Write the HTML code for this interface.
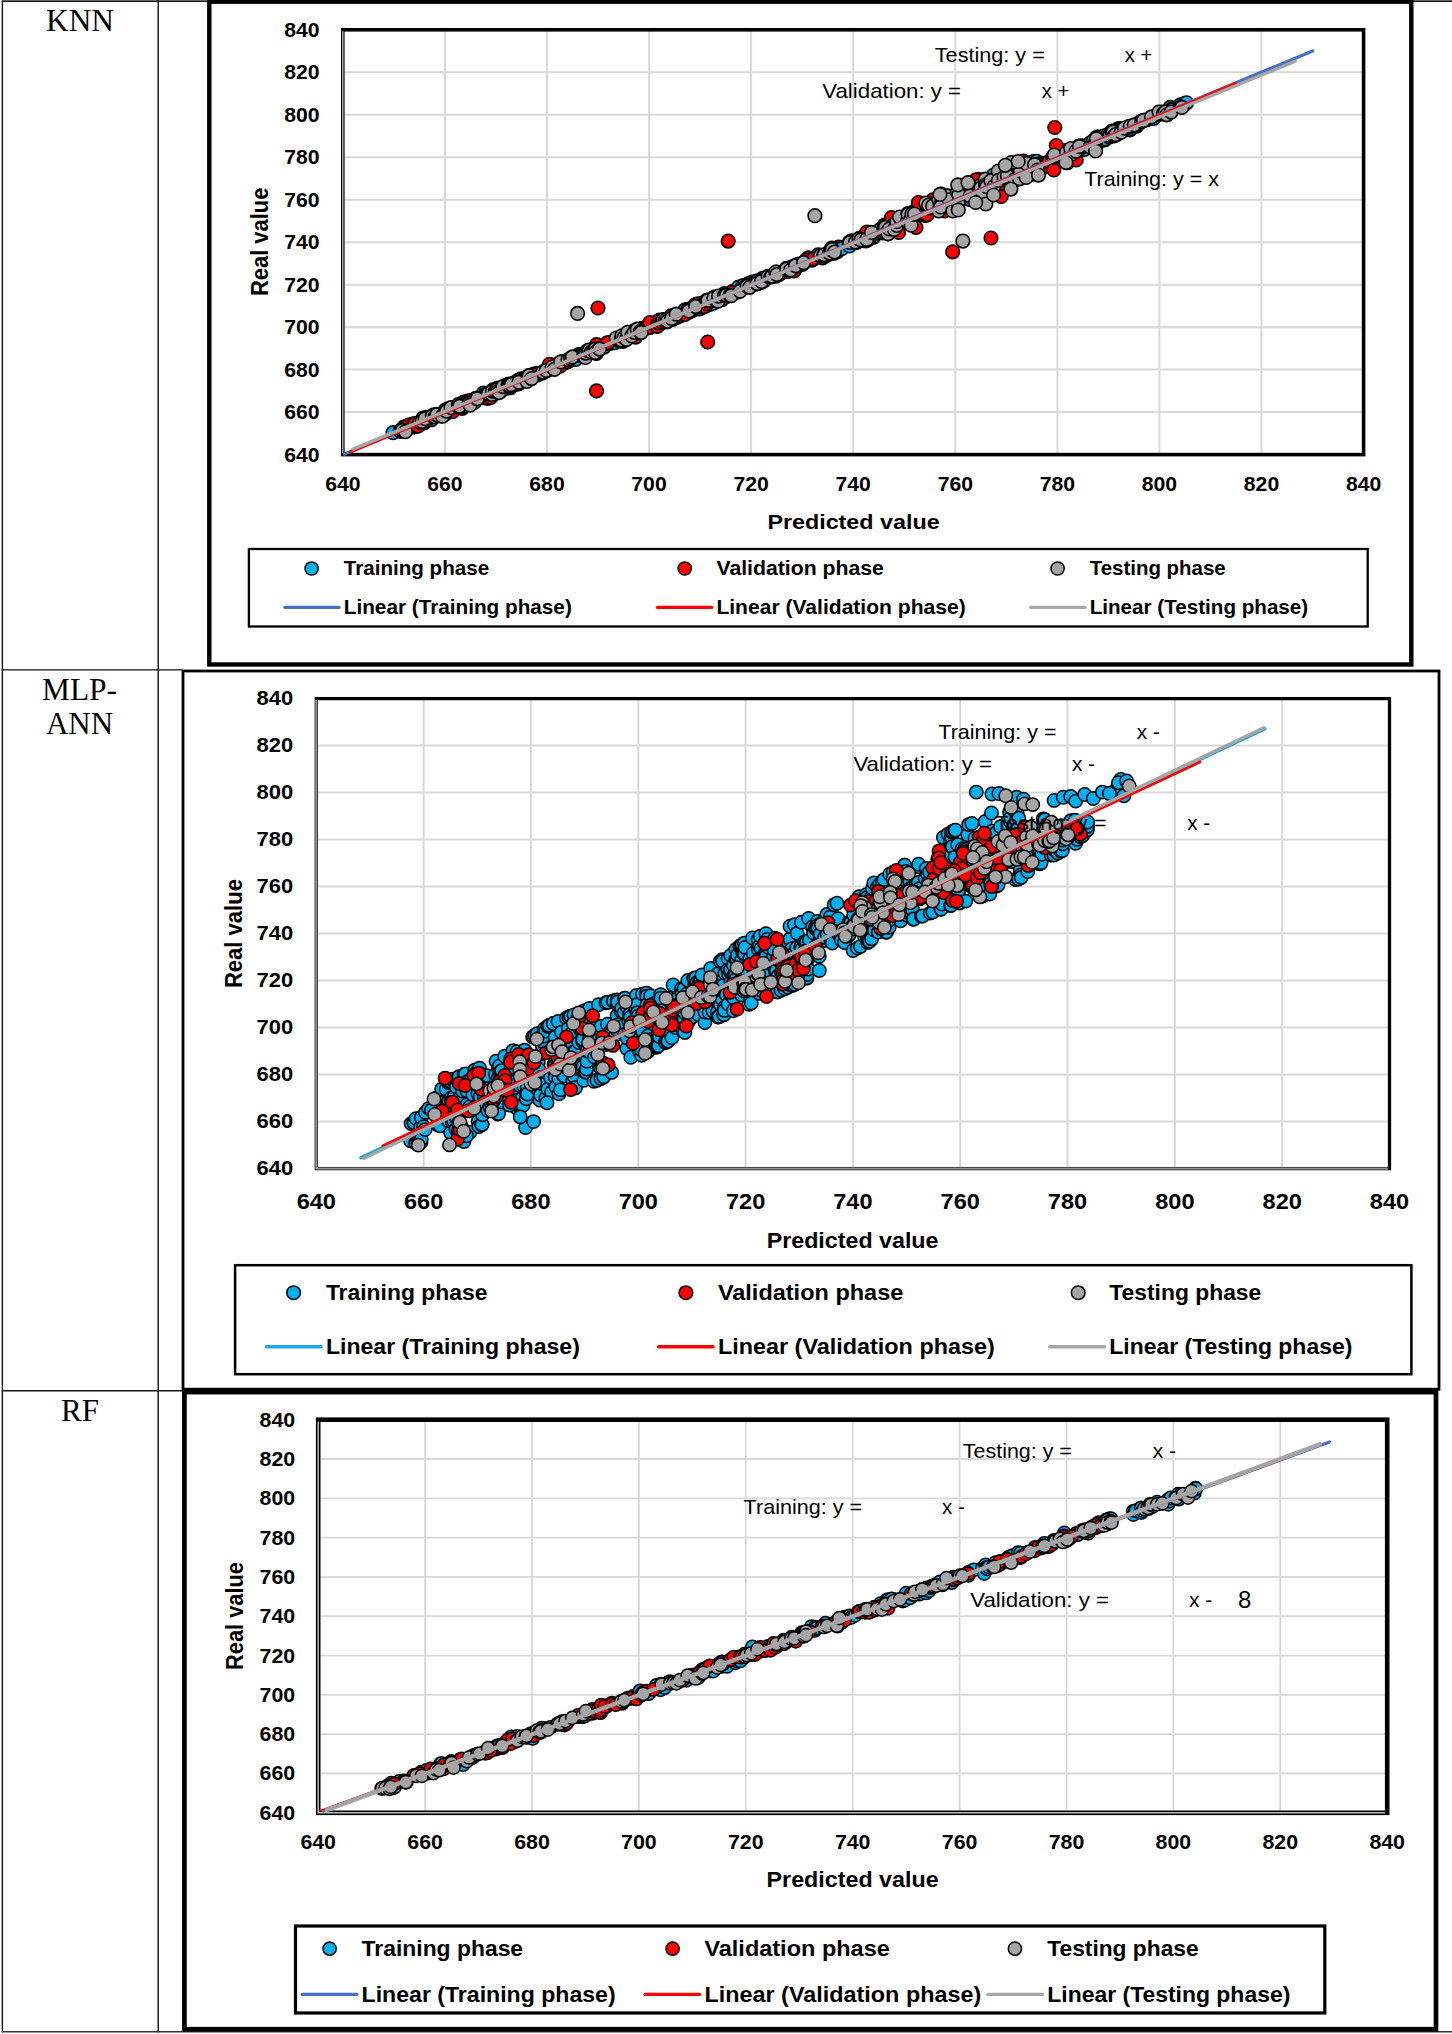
<!DOCTYPE html>
<html><head><meta charset="utf-8"><title>Scatter plots</title>
<style>html,body{margin:0;padding:0;background:#fff}svg{display:block}text{font-family:"Liberation Sans", sans-serif;fill:#000}.sf{font-family:"Liberation Serif", serif}</style></head><body>
<svg width="1452" height="2034" viewBox="0 0 1452 2034">
<rect width="1452" height="2034" fill="#fff"/>
<rect x="2" y="0" width="1452" height="0.8" fill="#b0b0b0"/>
<g stroke="#111" stroke-width="1.4">
<line x1="1.7" y1="1.3" x2="1452" y2="1.3"/>
<line x1="2.4" y1="0.7" x2="2.4" y2="2032.4"/>
<line x1="158.2" y1="0" x2="158.2" y2="2032.4"/>
<line x1="1.7" y1="669.9" x2="183" y2="669.9"/>
<line x1="1.7" y1="1390.8" x2="183" y2="1390.8"/>
</g>
<line x1="1.7" y1="2031.7" x2="1452" y2="2031.7" stroke="#333" stroke-width="1.4"/>
<text x="80" y="31" font-size="32" text-anchor="middle" textLength="68" lengthAdjust="spacingAndGlyphs" class="sf">KNN</text>
<text x="79.5" y="699.6" font-size="32" text-anchor="middle" textLength="75" lengthAdjust="spacingAndGlyphs" class="sf">MLP-</text>
<text x="79.5" y="734" font-size="32" text-anchor="middle" textLength="67.2" lengthAdjust="spacingAndGlyphs" class="sf">ANN</text>
<text x="80" y="1420.6" font-size="32" text-anchor="middle" textLength="37.8" lengthAdjust="spacingAndGlyphs" class="sf">RF</text>
<rect x="209.3" y="1.7" width="1202" height="662.8" fill="#fff" stroke="#000" stroke-width="4.4"/>
<g stroke="#D9D9D9" stroke-width="2">
<line x1="444.9" y1="29.8" x2="444.9" y2="454.6"/>
<line x1="547" y1="29.8" x2="547" y2="454.6"/>
<line x1="649" y1="29.8" x2="649" y2="454.6"/>
<line x1="751.1" y1="29.8" x2="751.1" y2="454.6"/>
<line x1="853.2" y1="29.8" x2="853.2" y2="454.6"/>
<line x1="955.3" y1="29.8" x2="955.3" y2="454.6"/>
<line x1="1057.4" y1="29.8" x2="1057.4" y2="454.6"/>
<line x1="1159.4" y1="29.8" x2="1159.4" y2="454.6"/>
<line x1="1261.5" y1="29.8" x2="1261.5" y2="454.6"/>
<line x1="342.8" y1="72.3" x2="1363.6" y2="72.3"/>
<line x1="342.8" y1="114.8" x2="1363.6" y2="114.8"/>
<line x1="342.8" y1="157.2" x2="1363.6" y2="157.2"/>
<line x1="342.8" y1="199.7" x2="1363.6" y2="199.7"/>
<line x1="342.8" y1="242.2" x2="1363.6" y2="242.2"/>
<line x1="342.8" y1="284.7" x2="1363.6" y2="284.7"/>
<line x1="342.8" y1="327.2" x2="1363.6" y2="327.2"/>
<line x1="342.8" y1="369.6" x2="1363.6" y2="369.6"/>
<line x1="342.8" y1="412.1" x2="1363.6" y2="412.1"/>
</g>
<rect x="342.8" y="29.8" width="1020.8" height="424.8" fill="none" stroke="#000" stroke-width="3.6"/>
<line x1="342.8" y1="31.3" x2="342.8" y2="453.1" stroke="#c8c8c8" stroke-width="1.3"/>
<g fill="#00B0F0" stroke="#000" stroke-width="1.6">
<circle cx="393" cy="432.7" r="6.8"/><circle cx="400.3" cy="430.7" r="6.8"/><circle cx="400.4" cy="431.3" r="6.8"/><circle cx="403.8" cy="427.2" r="6.8"/><circle cx="404.7" cy="427.5" r="6.8"/><circle cx="405.6" cy="426.8" r="6.8"/><circle cx="405.6" cy="427.6" r="6.8"/><circle cx="408.2" cy="427.5" r="6.8"/><circle cx="410.9" cy="426.8" r="6.8"/><circle cx="411.4" cy="426.4" r="6.8"/><circle cx="412.7" cy="424.2" r="6.8"/><circle cx="413" cy="425.2" r="6.8"/><circle cx="414.1" cy="426.9" r="6.8"/><circle cx="414.1" cy="425" r="6.8"/><circle cx="414.5" cy="426.7" r="6.8"/><circle cx="414.6" cy="424.5" r="6.8"/><circle cx="416.1" cy="425.7" r="6.8"/><circle cx="417.1" cy="425.4" r="6.8"/><circle cx="417.6" cy="423.3" r="6.8"/><circle cx="418.4" cy="423.2" r="6.8"/><circle cx="419.5" cy="424.9" r="6.8"/><circle cx="422.1" cy="420.6" r="6.8"/><circle cx="423.1" cy="418.2" r="6.8"/><circle cx="424.4" cy="422.7" r="6.8"/><circle cx="426.5" cy="417.3" r="6.8"/><circle cx="427.1" cy="420.4" r="6.8"/><circle cx="430.1" cy="418.9" r="6.8"/><circle cx="430.6" cy="418.3" r="6.8"/><circle cx="431.7" cy="419.6" r="6.8"/><circle cx="433.9" cy="414.9" r="6.8"/><circle cx="434.8" cy="415.6" r="6.8"/><circle cx="439.8" cy="415.3" r="6.8"/><circle cx="440.6" cy="414.3" r="6.8"/><circle cx="441.1" cy="415.8" r="6.8"/><circle cx="444.4" cy="412.8" r="6.8"/><circle cx="444.8" cy="410.9" r="6.8"/><circle cx="445" cy="414.4" r="6.8"/><circle cx="445.1" cy="412.6" r="6.8"/><circle cx="447.4" cy="410.9" r="6.8"/><circle cx="447.5" cy="409.6" r="6.8"/><circle cx="448.1" cy="408.9" r="6.8"/><circle cx="453.9" cy="409" r="6.8"/><circle cx="454.7" cy="409.1" r="6.8"/><circle cx="457.5" cy="406.3" r="6.8"/><circle cx="459.9" cy="406.4" r="6.8"/><circle cx="460.1" cy="406.2" r="6.8"/><circle cx="462.3" cy="403.4" r="6.8"/><circle cx="463.7" cy="402" r="6.8"/><circle cx="465.1" cy="403.3" r="6.8"/><circle cx="465.3" cy="403.9" r="6.8"/><circle cx="467.8" cy="401.8" r="6.8"/><circle cx="474.3" cy="402.5" r="6.8"/><circle cx="477.5" cy="398.6" r="6.8"/><circle cx="483" cy="397.7" r="6.8"/><circle cx="483.4" cy="393.1" r="6.8"/><circle cx="484.8" cy="394.5" r="6.8"/><circle cx="486.9" cy="394.4" r="6.8"/><circle cx="488.6" cy="394.2" r="6.8"/><circle cx="492.6" cy="395.3" r="6.8"/><circle cx="492.6" cy="391.3" r="6.8"/><circle cx="493" cy="389.9" r="6.8"/><circle cx="493.2" cy="393" r="6.8"/><circle cx="493.7" cy="390.9" r="6.8"/><circle cx="493.8" cy="390.8" r="6.8"/><circle cx="494.6" cy="393.5" r="6.8"/><circle cx="495.3" cy="389.9" r="6.8"/><circle cx="497.4" cy="388.4" r="6.8"/><circle cx="498.1" cy="389.7" r="6.8"/><circle cx="501" cy="388.9" r="6.8"/><circle cx="501.1" cy="387.7" r="6.8"/><circle cx="501.1" cy="390.8" r="6.8"/><circle cx="505.6" cy="386.7" r="6.8"/><circle cx="505.9" cy="385.3" r="6.8"/><circle cx="506" cy="388.4" r="6.8"/><circle cx="508.9" cy="384.1" r="6.8"/><circle cx="509.1" cy="386" r="6.8"/><circle cx="510.5" cy="387.6" r="6.8"/><circle cx="512.8" cy="384" r="6.8"/><circle cx="513.3" cy="385" r="6.8"/><circle cx="513.6" cy="383.1" r="6.8"/><circle cx="514.6" cy="384.7" r="6.8"/><circle cx="518" cy="380.3" r="6.8"/><circle cx="518.5" cy="382.5" r="6.8"/><circle cx="518.5" cy="381" r="6.8"/><circle cx="518.5" cy="382.3" r="6.8"/><circle cx="521" cy="380.9" r="6.8"/><circle cx="521.1" cy="378.8" r="6.8"/><circle cx="523.5" cy="379.1" r="6.8"/><circle cx="525.3" cy="379.2" r="6.8"/><circle cx="527.6" cy="379.4" r="6.8"/><circle cx="528.8" cy="375.6" r="6.8"/><circle cx="533.8" cy="374.1" r="6.8"/><circle cx="535.2" cy="375" r="6.8"/><circle cx="537.1" cy="373.4" r="6.8"/><circle cx="537.9" cy="374.8" r="6.8"/><circle cx="542.7" cy="372.8" r="6.8"/><circle cx="547.1" cy="370.7" r="6.8"/><circle cx="549.4" cy="368.1" r="6.8"/><circle cx="551.1" cy="367.5" r="6.8"/><circle cx="552.3" cy="368.4" r="6.8"/><circle cx="554.1" cy="365.7" r="6.8"/><circle cx="556.4" cy="364.6" r="6.8"/><circle cx="560.9" cy="363.6" r="6.8"/><circle cx="562.5" cy="361.8" r="6.8"/><circle cx="564.2" cy="362.9" r="6.8"/><circle cx="564.2" cy="362.6" r="6.8"/><circle cx="566" cy="361.1" r="6.8"/><circle cx="569.6" cy="360.3" r="6.8"/><circle cx="571.4" cy="358.4" r="6.8"/><circle cx="575.7" cy="359.4" r="6.8"/><circle cx="578.6" cy="354.5" r="6.8"/><circle cx="582.2" cy="356" r="6.8"/><circle cx="585.8" cy="353.7" r="6.8"/><circle cx="586.4" cy="355.1" r="6.8"/><circle cx="587.2" cy="352.1" r="6.8"/><circle cx="588.2" cy="350.8" r="6.8"/><circle cx="589.3" cy="350.6" r="6.8"/><circle cx="589.7" cy="350.7" r="6.8"/><circle cx="594.7" cy="351.9" r="6.8"/><circle cx="596.4" cy="350.1" r="6.8"/><circle cx="596.8" cy="349.5" r="6.8"/><circle cx="604.1" cy="347.1" r="6.8"/><circle cx="607" cy="343.1" r="6.8"/><circle cx="610.1" cy="343.1" r="6.8"/><circle cx="610.5" cy="343.2" r="6.8"/><circle cx="612" cy="341.9" r="6.8"/><circle cx="614.8" cy="342.7" r="6.8"/><circle cx="618.9" cy="341" r="6.8"/><circle cx="620.6" cy="340.2" r="6.8"/><circle cx="622.5" cy="337.5" r="6.8"/><circle cx="623.6" cy="337.3" r="6.8"/><circle cx="624.6" cy="336.6" r="6.8"/><circle cx="625.8" cy="335.4" r="6.8"/><circle cx="626.8" cy="338.2" r="6.8"/><circle cx="629.2" cy="336.2" r="6.8"/><circle cx="635" cy="332.8" r="6.8"/><circle cx="636.7" cy="334.1" r="6.8"/><circle cx="637.1" cy="332.9" r="6.8"/><circle cx="641.6" cy="328.9" r="6.8"/><circle cx="642.2" cy="328.5" r="6.8"/><circle cx="642.3" cy="328.5" r="6.8"/><circle cx="643.9" cy="329.2" r="6.8"/><circle cx="644" cy="329.5" r="6.8"/><circle cx="649.9" cy="325.3" r="6.8"/><circle cx="650" cy="327.3" r="6.8"/><circle cx="650" cy="326.3" r="6.8"/><circle cx="655.6" cy="322.6" r="6.8"/><circle cx="659.7" cy="323.2" r="6.8"/><circle cx="661.5" cy="322.8" r="6.8"/><circle cx="662.1" cy="321.8" r="6.8"/><circle cx="662.6" cy="320.7" r="6.8"/><circle cx="664.6" cy="320" r="6.8"/><circle cx="666.6" cy="319.6" r="6.8"/><circle cx="671.6" cy="317" r="6.8"/><circle cx="672.6" cy="319.5" r="6.8"/><circle cx="673.7" cy="318" r="6.8"/><circle cx="675.7" cy="315.8" r="6.8"/><circle cx="675.7" cy="317.3" r="6.8"/><circle cx="677.5" cy="317.2" r="6.8"/><circle cx="679.8" cy="316" r="6.8"/><circle cx="681.2" cy="315" r="6.8"/><circle cx="682" cy="313.7" r="6.8"/><circle cx="682.2" cy="314.8" r="6.8"/><circle cx="682.4" cy="312.9" r="6.8"/><circle cx="685.1" cy="309.9" r="6.8"/><circle cx="686.9" cy="311.6" r="6.8"/><circle cx="687.9" cy="309.3" r="6.8"/><circle cx="688.5" cy="310.3" r="6.8"/><circle cx="689.7" cy="311.8" r="6.8"/><circle cx="690.9" cy="310.1" r="6.8"/><circle cx="693.3" cy="310.1" r="6.8"/><circle cx="697.7" cy="305.9" r="6.8"/><circle cx="697.7" cy="308.5" r="6.8"/><circle cx="697.9" cy="305" r="6.8"/><circle cx="698.6" cy="305.8" r="6.8"/><circle cx="699.7" cy="308.8" r="6.8"/><circle cx="699.8" cy="305" r="6.8"/><circle cx="701.1" cy="303.4" r="6.8"/><circle cx="702.1" cy="306.1" r="6.8"/><circle cx="702.9" cy="303.4" r="6.8"/><circle cx="705.5" cy="306.1" r="6.8"/><circle cx="706" cy="303.1" r="6.8"/><circle cx="707.6" cy="305" r="6.8"/><circle cx="708.9" cy="301.6" r="6.8"/><circle cx="709.4" cy="304.5" r="6.8"/><circle cx="713" cy="303.5" r="6.8"/><circle cx="714" cy="299.6" r="6.8"/><circle cx="714.2" cy="297.1" r="6.8"/><circle cx="715" cy="300.5" r="6.8"/><circle cx="719.4" cy="296.7" r="6.8"/><circle cx="720.7" cy="297.2" r="6.8"/><circle cx="721.8" cy="297.3" r="6.8"/><circle cx="722.4" cy="295.8" r="6.8"/><circle cx="724.5" cy="293.5" r="6.8"/><circle cx="726.7" cy="296.5" r="6.8"/><circle cx="732.4" cy="291.7" r="6.8"/><circle cx="733.6" cy="291.5" r="6.8"/><circle cx="738.4" cy="291.9" r="6.8"/><circle cx="738.5" cy="287.8" r="6.8"/><circle cx="738.6" cy="287.2" r="6.8"/><circle cx="740.4" cy="290.4" r="6.8"/><circle cx="743.3" cy="285.6" r="6.8"/><circle cx="744.1" cy="287.5" r="6.8"/><circle cx="747.9" cy="286.2" r="6.8"/><circle cx="748" cy="283.9" r="6.8"/><circle cx="748.8" cy="285.3" r="6.8"/><circle cx="750.5" cy="284.5" r="6.8"/><circle cx="751.2" cy="282.6" r="6.8"/><circle cx="753.5" cy="281.9" r="6.8"/><circle cx="757.3" cy="280.9" r="6.8"/><circle cx="757.4" cy="284" r="6.8"/><circle cx="761.5" cy="282.5" r="6.8"/><circle cx="762.6" cy="278.4" r="6.8"/><circle cx="762.7" cy="281.1" r="6.8"/><circle cx="763.2" cy="279.5" r="6.8"/><circle cx="764.6" cy="280.5" r="6.8"/><circle cx="771.6" cy="276.4" r="6.8"/><circle cx="775.7" cy="276.2" r="6.8"/><circle cx="776.4" cy="272" r="6.8"/><circle cx="779.2" cy="274.4" r="6.8"/><circle cx="780.3" cy="272.7" r="6.8"/><circle cx="784" cy="271.3" r="6.8"/><circle cx="786.3" cy="268.4" r="6.8"/><circle cx="787.7" cy="271.4" r="6.8"/><circle cx="788" cy="269.4" r="6.8"/><circle cx="788.8" cy="269.3" r="6.8"/><circle cx="788.9" cy="268.2" r="6.8"/><circle cx="791.1" cy="267.4" r="6.8"/><circle cx="795.5" cy="266.8" r="6.8"/><circle cx="798.5" cy="264.7" r="6.8"/><circle cx="799" cy="265.3" r="6.8"/><circle cx="799.3" cy="264" r="6.8"/><circle cx="800" cy="264.5" r="6.8"/><circle cx="802.3" cy="264.3" r="6.8"/><circle cx="804" cy="262.7" r="6.8"/><circle cx="804.4" cy="262" r="6.8"/><circle cx="808.3" cy="257.9" r="6.8"/><circle cx="811.9" cy="260.1" r="6.8"/><circle cx="813.6" cy="258.2" r="6.8"/><circle cx="818.1" cy="254.8" r="6.8"/><circle cx="822.5" cy="257.8" r="6.8"/><circle cx="825.9" cy="256" r="6.8"/><circle cx="828.5" cy="254.1" r="6.8"/><circle cx="828.5" cy="252.6" r="6.8"/><circle cx="831.8" cy="248.1" r="6.8"/><circle cx="832.2" cy="250.4" r="6.8"/><circle cx="832.6" cy="249.1" r="6.8"/><circle cx="833.2" cy="250.8" r="6.8"/><circle cx="833.4" cy="253.5" r="6.8"/><circle cx="836.9" cy="252" r="6.8"/><circle cx="838.4" cy="247" r="6.8"/><circle cx="840.2" cy="247.4" r="6.8"/><circle cx="841.8" cy="248.7" r="6.8"/><circle cx="849.3" cy="242.3" r="6.8"/><circle cx="849.5" cy="245.9" r="6.8"/><circle cx="850.2" cy="241.8" r="6.8"/><circle cx="851.5" cy="240.8" r="6.8"/><circle cx="855.6" cy="242.3" r="6.8"/><circle cx="857.2" cy="242.1" r="6.8"/><circle cx="859.4" cy="238.4" r="6.8"/><circle cx="862.3" cy="240.1" r="6.8"/><circle cx="863" cy="236.8" r="6.8"/><circle cx="864.2" cy="239.5" r="6.8"/><circle cx="864.3" cy="236.3" r="6.8"/><circle cx="867.7" cy="236" r="6.8"/><circle cx="867.9" cy="236.8" r="6.8"/><circle cx="870.2" cy="236.6" r="6.8"/><circle cx="871" cy="234.4" r="6.8"/><circle cx="873.6" cy="237.1" r="6.8"/><circle cx="876.9" cy="232.9" r="6.8"/><circle cx="877.8" cy="232.8" r="6.8"/><circle cx="880" cy="229.6" r="6.8"/><circle cx="882.5" cy="232.8" r="6.8"/><circle cx="884.4" cy="225.2" r="6.8"/><circle cx="886.4" cy="229.1" r="6.8"/><circle cx="887" cy="231" r="6.8"/><circle cx="888.3" cy="224" r="6.8"/><circle cx="889.8" cy="222.5" r="6.8"/><circle cx="898" cy="224.1" r="6.8"/><circle cx="898.5" cy="226.1" r="6.8"/><circle cx="898.5" cy="223.3" r="6.8"/><circle cx="903.6" cy="223.5" r="6.8"/><circle cx="904.7" cy="221.8" r="6.8"/><circle cx="913.8" cy="211.7" r="6.8"/><circle cx="915.6" cy="214.9" r="6.8"/><circle cx="918" cy="214.8" r="6.8"/><circle cx="919.1" cy="213.6" r="6.8"/><circle cx="919.5" cy="214.8" r="6.8"/><circle cx="925" cy="209.6" r="6.8"/><circle cx="927.4" cy="208.5" r="6.8"/><circle cx="927.4" cy="212.5" r="6.8"/><circle cx="927.5" cy="211" r="6.8"/><circle cx="931.4" cy="202.5" r="6.8"/><circle cx="932.1" cy="208" r="6.8"/><circle cx="934.2" cy="209.1" r="6.8"/><circle cx="935.2" cy="201.4" r="6.8"/><circle cx="935.4" cy="208" r="6.8"/><circle cx="938.8" cy="210.2" r="6.8"/><circle cx="941" cy="203.4" r="6.8"/><circle cx="941.5" cy="208.5" r="6.8"/><circle cx="941.9" cy="207" r="6.8"/><circle cx="942.5" cy="203.9" r="6.8"/><circle cx="945.1" cy="204.4" r="6.8"/><circle cx="946.5" cy="206" r="6.8"/><circle cx="948.8" cy="204.4" r="6.8"/><circle cx="953.1" cy="202.9" r="6.8"/><circle cx="954.1" cy="195.8" r="6.8"/><circle cx="955.8" cy="202.3" r="6.8"/><circle cx="959.9" cy="200.1" r="6.8"/><circle cx="960.3" cy="189.5" r="6.8"/><circle cx="962.9" cy="198.8" r="6.8"/><circle cx="963.5" cy="190.2" r="6.8"/><circle cx="965.1" cy="190.2" r="6.8"/><circle cx="966.4" cy="195.7" r="6.8"/><circle cx="970.2" cy="199.6" r="6.8"/><circle cx="976.3" cy="189" r="6.8"/><circle cx="978.5" cy="187.1" r="6.8"/><circle cx="979.9" cy="185.1" r="6.8"/><circle cx="979.9" cy="189.1" r="6.8"/><circle cx="981.9" cy="183.2" r="6.8"/><circle cx="984.2" cy="181.3" r="6.8"/><circle cx="985.2" cy="192.1" r="6.8"/><circle cx="985.3" cy="180.7" r="6.8"/><circle cx="985.7" cy="186.3" r="6.8"/><circle cx="988" cy="188.7" r="6.8"/><circle cx="988.3" cy="187.4" r="6.8"/><circle cx="992.9" cy="175.5" r="6.8"/><circle cx="994.8" cy="178.8" r="6.8"/><circle cx="995.8" cy="191" r="6.8"/><circle cx="996.7" cy="182.1" r="6.8"/><circle cx="997.2" cy="182.9" r="6.8"/><circle cx="1001.4" cy="181.3" r="6.8"/><circle cx="1012.2" cy="178.2" r="6.8"/><circle cx="1013.2" cy="181.8" r="6.8"/><circle cx="1014.7" cy="171.4" r="6.8"/><circle cx="1015.4" cy="178.6" r="6.8"/><circle cx="1017.2" cy="175.5" r="6.8"/><circle cx="1017.3" cy="176.4" r="6.8"/><circle cx="1018.7" cy="176.3" r="6.8"/><circle cx="1020.1" cy="169.8" r="6.8"/><circle cx="1022" cy="170.4" r="6.8"/><circle cx="1027.3" cy="172.3" r="6.8"/><circle cx="1027.3" cy="173.3" r="6.8"/><circle cx="1027.7" cy="171.3" r="6.8"/><circle cx="1028" cy="165.8" r="6.8"/><circle cx="1028.5" cy="168.8" r="6.8"/><circle cx="1029.8" cy="167.9" r="6.8"/><circle cx="1030" cy="169.8" r="6.8"/><circle cx="1030.8" cy="169.2" r="6.8"/><circle cx="1032" cy="167" r="6.8"/><circle cx="1032.4" cy="174.2" r="6.8"/><circle cx="1033.4" cy="161.6" r="6.8"/><circle cx="1035.3" cy="169.1" r="6.8"/><circle cx="1035.6" cy="168.2" r="6.8"/><circle cx="1036.8" cy="161.3" r="6.8"/><circle cx="1039.9" cy="163.8" r="6.8"/><circle cx="1041.6" cy="163.7" r="6.8"/><circle cx="1045.4" cy="164" r="6.8"/><circle cx="1050.6" cy="164.4" r="6.8"/><circle cx="1059.4" cy="155.9" r="6.8"/><circle cx="1064.3" cy="151.6" r="6.8"/><circle cx="1064.8" cy="156.2" r="6.8"/><circle cx="1065.9" cy="150.6" r="6.8"/><circle cx="1069.7" cy="154.5" r="6.8"/><circle cx="1070.4" cy="153.4" r="6.8"/><circle cx="1077.7" cy="147.8" r="6.8"/><circle cx="1080.7" cy="147.5" r="6.8"/><circle cx="1081.6" cy="145.9" r="6.8"/><circle cx="1081.9" cy="148.4" r="6.8"/><circle cx="1084.3" cy="147.9" r="6.8"/><circle cx="1084.3" cy="149.4" r="6.8"/><circle cx="1087.9" cy="146.6" r="6.8"/><circle cx="1088.5" cy="146.1" r="6.8"/><circle cx="1089.1" cy="146.5" r="6.8"/><circle cx="1090.1" cy="143.1" r="6.8"/><circle cx="1093" cy="143.5" r="6.8"/><circle cx="1094.3" cy="145.1" r="6.8"/><circle cx="1097.8" cy="136.9" r="6.8"/><circle cx="1098" cy="141.7" r="6.8"/><circle cx="1099.4" cy="141.7" r="6.8"/><circle cx="1100.3" cy="137.4" r="6.8"/><circle cx="1103.7" cy="136.2" r="6.8"/><circle cx="1104.5" cy="139.4" r="6.8"/><circle cx="1104.7" cy="139.8" r="6.8"/><circle cx="1104.9" cy="139" r="6.8"/><circle cx="1107.9" cy="134.5" r="6.8"/><circle cx="1109" cy="136.2" r="6.8"/><circle cx="1109.3" cy="136.8" r="6.8"/><circle cx="1109.9" cy="135.4" r="6.8"/><circle cx="1112.8" cy="132.4" r="6.8"/><circle cx="1113.7" cy="135.8" r="6.8"/><circle cx="1115.4" cy="133.6" r="6.8"/><circle cx="1117.1" cy="134.4" r="6.8"/><circle cx="1118" cy="128.9" r="6.8"/><circle cx="1119.8" cy="128.6" r="6.8"/><circle cx="1120.2" cy="129.7" r="6.8"/><circle cx="1121.8" cy="130.6" r="6.8"/><circle cx="1129.3" cy="126.4" r="6.8"/><circle cx="1129.8" cy="130" r="6.8"/><circle cx="1130.4" cy="126.5" r="6.8"/><circle cx="1131.1" cy="128.4" r="6.8"/><circle cx="1136.6" cy="126.1" r="6.8"/><circle cx="1136.8" cy="125.2" r="6.8"/><circle cx="1137.7" cy="124.3" r="6.8"/><circle cx="1140.5" cy="121.8" r="6.8"/><circle cx="1142" cy="121.1" r="6.8"/><circle cx="1146.4" cy="119.8" r="6.8"/><circle cx="1153.6" cy="118.5" r="6.8"/><circle cx="1158.4" cy="114.3" r="6.8"/><circle cx="1161.7" cy="114" r="6.8"/><circle cx="1161.7" cy="112.2" r="6.8"/><circle cx="1164.2" cy="114" r="6.8"/><circle cx="1166.8" cy="114.7" r="6.8"/><circle cx="1167.2" cy="112.2" r="6.8"/><circle cx="1170.2" cy="107.3" r="6.8"/><circle cx="1171.1" cy="109.3" r="6.8"/><circle cx="1172.3" cy="109.7" r="6.8"/><circle cx="1180.3" cy="104.9" r="6.8"/><circle cx="1184.7" cy="103.6" r="6.8"/><circle cx="1186.6" cy="102.8" r="6.8"/>
</g>
<g fill="#FF0000" stroke="#000" stroke-width="1.6">
<circle cx="408.8" cy="425" r="6.8"/><circle cx="412.4" cy="425.9" r="6.8"/><circle cx="415" cy="423.5" r="6.8"/><circle cx="417.7" cy="426.1" r="6.8"/><circle cx="421.2" cy="421.6" r="6.8"/><circle cx="426.1" cy="420.7" r="6.8"/><circle cx="436" cy="414.8" r="6.8"/><circle cx="437.8" cy="414.7" r="6.8"/><circle cx="452.8" cy="411.5" r="6.8"/><circle cx="462.2" cy="408.5" r="6.8"/><circle cx="463.6" cy="406.3" r="6.8"/><circle cx="467.7" cy="401.2" r="6.8"/><circle cx="470.4" cy="400.7" r="6.8"/><circle cx="475.8" cy="398.4" r="6.8"/><circle cx="487.5" cy="398.3" r="6.8"/><circle cx="490.7" cy="397.4" r="6.8"/><circle cx="491.5" cy="393.9" r="6.8"/><circle cx="492.1" cy="393.1" r="6.8"/><circle cx="495.5" cy="392.2" r="6.8"/><circle cx="500.1" cy="388.4" r="6.8"/><circle cx="510.8" cy="385" r="6.8"/><circle cx="518.5" cy="383.8" r="6.8"/><circle cx="525.5" cy="380.3" r="6.8"/><circle cx="532.6" cy="375.3" r="6.8"/><circle cx="534.1" cy="374.8" r="6.8"/><circle cx="545.1" cy="370.6" r="6.8"/><circle cx="549.4" cy="364.3" r="6.8"/><circle cx="552" cy="368.1" r="6.8"/><circle cx="558.8" cy="364.5" r="6.8"/><circle cx="560.2" cy="366.1" r="6.8"/><circle cx="567.2" cy="361.9" r="6.8"/><circle cx="578.8" cy="355.4" r="6.8"/><circle cx="581" cy="354.4" r="6.8"/><circle cx="582.1" cy="355.3" r="6.8"/><circle cx="585.2" cy="353" r="6.8"/><circle cx="592" cy="350.8" r="6.8"/><circle cx="596.2" cy="352.8" r="6.8"/><circle cx="596.4" cy="353.4" r="6.8"/><circle cx="596.6" cy="344.7" r="6.8"/><circle cx="607.6" cy="342.8" r="6.8"/><circle cx="618.4" cy="340" r="6.8"/><circle cx="623" cy="341.4" r="6.8"/><circle cx="623.9" cy="340.1" r="6.8"/><circle cx="633.4" cy="331" r="6.8"/><circle cx="635.6" cy="337.1" r="6.8"/><circle cx="636" cy="333.2" r="6.8"/><circle cx="638.9" cy="329.7" r="6.8"/><circle cx="640" cy="330.6" r="6.8"/><circle cx="647.8" cy="326.2" r="6.8"/><circle cx="648.9" cy="327.5" r="6.8"/><circle cx="649.9" cy="322.5" r="6.8"/><circle cx="657.3" cy="325.7" r="6.8"/><circle cx="657.4" cy="326.3" r="6.8"/><circle cx="658" cy="322.9" r="6.8"/><circle cx="659.5" cy="320" r="6.8"/><circle cx="661.9" cy="321.9" r="6.8"/><circle cx="671.1" cy="315.9" r="6.8"/><circle cx="679.1" cy="315.7" r="6.8"/><circle cx="685.1" cy="314.5" r="6.8"/><circle cx="694.7" cy="305.4" r="6.8"/><circle cx="696.4" cy="304.4" r="6.8"/><circle cx="697.1" cy="304.2" r="6.8"/><circle cx="701.9" cy="306" r="6.8"/><circle cx="702.6" cy="307.1" r="6.8"/><circle cx="704" cy="306.6" r="6.8"/><circle cx="706.6" cy="303.7" r="6.8"/><circle cx="709.9" cy="300.7" r="6.8"/><circle cx="710.2" cy="300.7" r="6.8"/><circle cx="722" cy="299.6" r="6.8"/><circle cx="731.5" cy="292.5" r="6.8"/><circle cx="745.4" cy="287" r="6.8"/><circle cx="751" cy="284.6" r="6.8"/><circle cx="751.8" cy="284.4" r="6.8"/><circle cx="752.8" cy="284.4" r="6.8"/><circle cx="767.8" cy="276.6" r="6.8"/><circle cx="776.2" cy="274" r="6.8"/><circle cx="776.5" cy="273.7" r="6.8"/><circle cx="778.9" cy="274.5" r="6.8"/><circle cx="792.3" cy="266.8" r="6.8"/><circle cx="792.9" cy="267.5" r="6.8"/><circle cx="794.1" cy="270.9" r="6.8"/><circle cx="796.7" cy="264.8" r="6.8"/><circle cx="797.7" cy="265.8" r="6.8"/><circle cx="806.1" cy="260" r="6.8"/><circle cx="813.4" cy="259.1" r="6.8"/><circle cx="820.1" cy="256.2" r="6.8"/><circle cx="820.4" cy="255.4" r="6.8"/><circle cx="854.9" cy="241.5" r="6.8"/><circle cx="857.3" cy="241.4" r="6.8"/><circle cx="865.9" cy="241" r="6.8"/><circle cx="867" cy="232.1" r="6.8"/><circle cx="868.7" cy="239.5" r="6.8"/><circle cx="883.3" cy="230.8" r="6.8"/><circle cx="884.9" cy="226.8" r="6.8"/><circle cx="888" cy="226.3" r="6.8"/><circle cx="888.9" cy="225.2" r="6.8"/><circle cx="889.4" cy="224.2" r="6.8"/><circle cx="890.1" cy="222" r="6.8"/><circle cx="891.2" cy="225.2" r="6.8"/><circle cx="891.5" cy="217.5" r="6.8"/><circle cx="893.5" cy="229.6" r="6.8"/><circle cx="894.3" cy="224.2" r="6.8"/><circle cx="897" cy="225.5" r="6.8"/><circle cx="903.3" cy="223.9" r="6.8"/><circle cx="919.2" cy="213.4" r="6.8"/><circle cx="923.2" cy="206.2" r="6.8"/><circle cx="925.4" cy="215.5" r="6.8"/><circle cx="927.1" cy="214.8" r="6.8"/><circle cx="928" cy="207.7" r="6.8"/><circle cx="929.8" cy="207.8" r="6.8"/><circle cx="933" cy="199.9" r="6.8"/><circle cx="933.7" cy="203.9" r="6.8"/><circle cx="939.1" cy="205.4" r="6.8"/><circle cx="940.9" cy="207.3" r="6.8"/><circle cx="942.3" cy="204.1" r="6.8"/><circle cx="944.5" cy="205.1" r="6.8"/><circle cx="944.7" cy="210.9" r="6.8"/><circle cx="945.7" cy="203.7" r="6.8"/><circle cx="948" cy="203.6" r="6.8"/><circle cx="953.7" cy="201.6" r="6.8"/><circle cx="953.8" cy="202.7" r="6.8"/><circle cx="978.2" cy="179.3" r="6.8"/><circle cx="979.2" cy="185.3" r="6.8"/><circle cx="981.8" cy="182.6" r="6.8"/><circle cx="984.7" cy="191.5" r="6.8"/><circle cx="997.9" cy="188.7" r="6.8"/><circle cx="1006.5" cy="180.2" r="6.8"/><circle cx="1008" cy="176.2" r="6.8"/><circle cx="1011.2" cy="178.6" r="6.8"/><circle cx="1021.2" cy="173.3" r="6.8"/><circle cx="1023" cy="166.1" r="6.8"/><circle cx="1028.5" cy="167.7" r="6.8"/><circle cx="1028.9" cy="174.3" r="6.8"/><circle cx="1030.5" cy="170.6" r="6.8"/><circle cx="1034.5" cy="170" r="6.8"/><circle cx="1036.1" cy="165.2" r="6.8"/><circle cx="1046.5" cy="166.7" r="6.8"/><circle cx="1048.8" cy="161.5" r="6.8"/><circle cx="1053.7" cy="156.1" r="6.8"/><circle cx="1059.5" cy="156.2" r="6.8"/><circle cx="1068" cy="155.7" r="6.8"/><circle cx="1069.1" cy="154.3" r="6.8"/><circle cx="1077.1" cy="148.7" r="6.8"/><circle cx="1078.5" cy="147.1" r="6.8"/><circle cx="1078.9" cy="146" r="6.8"/><circle cx="1080.2" cy="148.1" r="6.8"/><circle cx="1095.7" cy="144.4" r="6.8"/><circle cx="1096" cy="137.8" r="6.8"/><circle cx="1115.6" cy="132.4" r="6.8"/><circle cx="1117.4" cy="131.4" r="6.8"/><circle cx="728.2" cy="241.1" r="6.8"/><circle cx="598" cy="308" r="6.8"/><circle cx="707.7" cy="342" r="6.8"/><circle cx="596.5" cy="390.9" r="6.8"/><circle cx="1054.8" cy="127.5" r="6.8"/><circle cx="952.7" cy="251.8" r="6.8"/><circle cx="991" cy="238" r="6.8"/><circle cx="1056.3" cy="145.6" r="6.8"/><circle cx="1067.6" cy="162.6" r="6.8"/><circle cx="1001.2" cy="196.5" r="6.8"/><circle cx="918.5" cy="202.5" r="6.8"/><circle cx="941" cy="194" r="6.8"/><circle cx="960.9" cy="185.9" r="6.8"/><circle cx="975.7" cy="180" r="6.8"/><circle cx="1023.7" cy="161.1" r="6.8"/><circle cx="898.6" cy="232.4" r="6.8"/><circle cx="916" cy="227.5" r="6.8"/><circle cx="1053.8" cy="170" r="6.8"/><circle cx="1076.2" cy="160" r="6.8"/>
</g>
<g fill="#A5A5A5" stroke="#000" stroke-width="1.6">
<circle cx="402.4" cy="430.6" r="6.8"/><circle cx="405.4" cy="431.7" r="6.8"/><circle cx="419.8" cy="422.1" r="6.8"/><circle cx="422.1" cy="421.5" r="6.8"/><circle cx="425.1" cy="418.7" r="6.8"/><circle cx="432.3" cy="415.9" r="6.8"/><circle cx="435.1" cy="416.7" r="6.8"/><circle cx="436.8" cy="414.8" r="6.8"/><circle cx="442.4" cy="416.2" r="6.8"/><circle cx="445.4" cy="410" r="6.8"/><circle cx="446.5" cy="411.2" r="6.8"/><circle cx="451" cy="407.7" r="6.8"/><circle cx="458.4" cy="404.7" r="6.8"/><circle cx="458.4" cy="407" r="6.8"/><circle cx="459.6" cy="406.3" r="6.8"/><circle cx="469.1" cy="403.6" r="6.8"/><circle cx="470.1" cy="405.2" r="6.8"/><circle cx="477.4" cy="398.8" r="6.8"/><circle cx="488.4" cy="393.8" r="6.8"/><circle cx="492" cy="394.4" r="6.8"/><circle cx="492.5" cy="391.1" r="6.8"/><circle cx="495.3" cy="391" r="6.8"/><circle cx="496.7" cy="389.8" r="6.8"/><circle cx="497.7" cy="391.5" r="6.8"/><circle cx="499.1" cy="392.6" r="6.8"/><circle cx="503" cy="386.6" r="6.8"/><circle cx="508.1" cy="384.8" r="6.8"/><circle cx="508.6" cy="385.8" r="6.8"/><circle cx="509.2" cy="386.1" r="6.8"/><circle cx="509.8" cy="385.6" r="6.8"/><circle cx="511.6" cy="384.6" r="6.8"/><circle cx="518.9" cy="382.2" r="6.8"/><circle cx="527" cy="381.4" r="6.8"/><circle cx="529.1" cy="375.8" r="6.8"/><circle cx="531.6" cy="378.6" r="6.8"/><circle cx="542.8" cy="372" r="6.8"/><circle cx="546.2" cy="370.5" r="6.8"/><circle cx="552.2" cy="367.1" r="6.8"/><circle cx="554.4" cy="369.3" r="6.8"/><circle cx="560.7" cy="361.9" r="6.8"/><circle cx="568" cy="359.8" r="6.8"/><circle cx="570.6" cy="358.5" r="6.8"/><circle cx="572.4" cy="356.9" r="6.8"/><circle cx="583.8" cy="355.7" r="6.8"/><circle cx="585.4" cy="357.4" r="6.8"/><circle cx="585.5" cy="353.1" r="6.8"/><circle cx="587.7" cy="350.5" r="6.8"/><circle cx="589.3" cy="350.1" r="6.8"/><circle cx="591.2" cy="352.2" r="6.8"/><circle cx="593.6" cy="350.4" r="6.8"/><circle cx="595.3" cy="349" r="6.8"/><circle cx="595.3" cy="352.6" r="6.8"/><circle cx="599.2" cy="349" r="6.8"/><circle cx="599.5" cy="348.9" r="6.8"/><circle cx="616.3" cy="338.1" r="6.8"/><circle cx="621.2" cy="339.9" r="6.8"/><circle cx="621.9" cy="335.8" r="6.8"/><circle cx="624.1" cy="337.5" r="6.8"/><circle cx="626.5" cy="339.4" r="6.8"/><circle cx="627.7" cy="332.3" r="6.8"/><circle cx="631.7" cy="336" r="6.8"/><circle cx="634.1" cy="332.3" r="6.8"/><circle cx="637.2" cy="329.2" r="6.8"/><circle cx="640.3" cy="331.7" r="6.8"/><circle cx="641.1" cy="332.6" r="6.8"/><circle cx="663.2" cy="319.5" r="6.8"/><circle cx="665.2" cy="320.3" r="6.8"/><circle cx="666.4" cy="322" r="6.8"/><circle cx="667.5" cy="321.3" r="6.8"/><circle cx="671.6" cy="318.4" r="6.8"/><circle cx="676.2" cy="314.2" r="6.8"/><circle cx="688.9" cy="311.1" r="6.8"/><circle cx="695.7" cy="306.6" r="6.8"/><circle cx="706.8" cy="300.3" r="6.8"/><circle cx="707.1" cy="300.8" r="6.8"/><circle cx="707.9" cy="300.2" r="6.8"/><circle cx="713.9" cy="298.1" r="6.8"/><circle cx="717.9" cy="301.2" r="6.8"/><circle cx="718.6" cy="296.1" r="6.8"/><circle cx="724.5" cy="295.2" r="6.8"/><circle cx="726.4" cy="295.2" r="6.8"/><circle cx="730" cy="295.3" r="6.8"/><circle cx="731.2" cy="295.7" r="6.8"/><circle cx="740.1" cy="291.2" r="6.8"/><circle cx="747.2" cy="286.3" r="6.8"/><circle cx="749.7" cy="287.3" r="6.8"/><circle cx="757" cy="283.6" r="6.8"/><circle cx="761.4" cy="281.5" r="6.8"/><circle cx="768.2" cy="276.4" r="6.8"/><circle cx="770.9" cy="276.9" r="6.8"/><circle cx="771.9" cy="276.3" r="6.8"/><circle cx="775.8" cy="272.1" r="6.8"/><circle cx="776.8" cy="274.5" r="6.8"/><circle cx="786.7" cy="268.9" r="6.8"/><circle cx="790.6" cy="270.1" r="6.8"/><circle cx="795.5" cy="265.7" r="6.8"/><circle cx="803.6" cy="262.7" r="6.8"/><circle cx="820.6" cy="255.5" r="6.8"/><circle cx="823.7" cy="255.3" r="6.8"/><circle cx="824.2" cy="256" r="6.8"/><circle cx="824.3" cy="254.8" r="6.8"/><circle cx="829.3" cy="253" r="6.8"/><circle cx="830.9" cy="249.7" r="6.8"/><circle cx="832.2" cy="249.4" r="6.8"/><circle cx="834.5" cy="252" r="6.8"/><circle cx="850" cy="242.4" r="6.8"/><circle cx="855.4" cy="242.1" r="6.8"/><circle cx="858.9" cy="239" r="6.8"/><circle cx="860.9" cy="239.9" r="6.8"/><circle cx="866.6" cy="239.6" r="6.8"/><circle cx="871.5" cy="232.4" r="6.8"/><circle cx="885.4" cy="227.4" r="6.8"/><circle cx="887.3" cy="231.9" r="6.8"/><circle cx="888" cy="233.8" r="6.8"/><circle cx="889.2" cy="229" r="6.8"/><circle cx="894.3" cy="229.4" r="6.8"/><circle cx="896.7" cy="225.5" r="6.8"/><circle cx="896.8" cy="221.7" r="6.8"/><circle cx="899.6" cy="217.1" r="6.8"/><circle cx="907.3" cy="221.2" r="6.8"/><circle cx="907.9" cy="213.6" r="6.8"/><circle cx="908.2" cy="214.4" r="6.8"/><circle cx="910.4" cy="220.2" r="6.8"/><circle cx="911.1" cy="225.2" r="6.8"/><circle cx="912" cy="214.1" r="6.8"/><circle cx="914.5" cy="214.1" r="6.8"/><circle cx="925.9" cy="203" r="6.8"/><circle cx="928.7" cy="205" r="6.8"/><circle cx="932.7" cy="205.9" r="6.8"/><circle cx="938.7" cy="199.6" r="6.8"/><circle cx="938.7" cy="210.9" r="6.8"/><circle cx="940.2" cy="205.2" r="6.8"/><circle cx="940.7" cy="206.9" r="6.8"/><circle cx="946.5" cy="195.7" r="6.8"/><circle cx="949" cy="199.8" r="6.8"/><circle cx="952.9" cy="210.9" r="6.8"/><circle cx="957.3" cy="192.2" r="6.8"/><circle cx="958" cy="203" r="6.8"/><circle cx="958.9" cy="194.4" r="6.8"/><circle cx="970" cy="196.1" r="6.8"/><circle cx="980.4" cy="187.9" r="6.8"/><circle cx="980.4" cy="185.6" r="6.8"/><circle cx="980.9" cy="187.9" r="6.8"/><circle cx="983" cy="193.5" r="6.8"/><circle cx="985.3" cy="179.2" r="6.8"/><circle cx="985.6" cy="184.8" r="6.8"/><circle cx="986.6" cy="186.7" r="6.8"/><circle cx="990.9" cy="180.8" r="6.8"/><circle cx="993.9" cy="186.6" r="6.8"/><circle cx="998.2" cy="171.1" r="6.8"/><circle cx="998.4" cy="180.4" r="6.8"/><circle cx="1004" cy="177.3" r="6.8"/><circle cx="1007.4" cy="176" r="6.8"/><circle cx="1014.9" cy="179.6" r="6.8"/><circle cx="1019.5" cy="178.8" r="6.8"/><circle cx="1020.4" cy="171.4" r="6.8"/><circle cx="1020.5" cy="170.7" r="6.8"/><circle cx="1026.5" cy="163.6" r="6.8"/><circle cx="1034.6" cy="164.7" r="6.8"/><circle cx="1037.5" cy="170" r="6.8"/><circle cx="1052.7" cy="157.3" r="6.8"/><circle cx="1053.9" cy="155.9" r="6.8"/><circle cx="1054.3" cy="155.1" r="6.8"/><circle cx="1066.5" cy="152.5" r="6.8"/><circle cx="1070.6" cy="154.9" r="6.8"/><circle cx="1070.8" cy="148.5" r="6.8"/><circle cx="1075.9" cy="151.3" r="6.8"/><circle cx="1079.5" cy="146.6" r="6.8"/><circle cx="1090.1" cy="146.9" r="6.8"/><circle cx="1093.5" cy="140.6" r="6.8"/><circle cx="1095.1" cy="143.1" r="6.8"/><circle cx="1096.4" cy="138.8" r="6.8"/><circle cx="1112" cy="131.2" r="6.8"/><circle cx="1113.1" cy="131.9" r="6.8"/><circle cx="1114.5" cy="135.5" r="6.8"/><circle cx="1115.8" cy="134.6" r="6.8"/><circle cx="1121.2" cy="132.2" r="6.8"/><circle cx="1124.6" cy="128.1" r="6.8"/><circle cx="1130.2" cy="126.3" r="6.8"/><circle cx="1134.3" cy="124.9" r="6.8"/><circle cx="1141.8" cy="121.5" r="6.8"/><circle cx="1143.5" cy="120.4" r="6.8"/><circle cx="1151.6" cy="116.9" r="6.8"/><circle cx="1159" cy="112" r="6.8"/><circle cx="1163.6" cy="113.1" r="6.8"/><circle cx="1165.3" cy="112" r="6.8"/><circle cx="1166.8" cy="114.8" r="6.8"/><circle cx="1171.1" cy="112.1" r="6.8"/><circle cx="1180.9" cy="107" r="6.8"/><circle cx="1181.9" cy="107.4" r="6.8"/><circle cx="814.9" cy="215.7" r="6.8"/><circle cx="577.6" cy="313.4" r="6.8"/><circle cx="962.9" cy="241.1" r="6.8"/><circle cx="1095.6" cy="150.9" r="6.8"/><circle cx="957.8" cy="184.9" r="6.8"/><circle cx="968" cy="182.7" r="6.8"/><circle cx="940" cy="194.4" r="6.8"/><circle cx="985.9" cy="204" r="6.8"/><circle cx="1011.4" cy="162.6" r="6.8"/><circle cx="1018.1" cy="161.5" r="6.8"/><circle cx="1005.3" cy="165.3" r="6.8"/><circle cx="958.3" cy="209.9" r="6.8"/><circle cx="975.7" cy="202.5" r="6.8"/><circle cx="993.6" cy="195" r="6.8"/><circle cx="1010.9" cy="189.1" r="6.8"/><circle cx="1026.2" cy="177.4" r="6.8"/><circle cx="1038.5" cy="175.1" r="6.8"/><circle cx="1066" cy="162.6" r="6.8"/>
</g>
<line x1="344.3" y1="454.2" x2="1312.6" y2="51" stroke="#4472C4" stroke-width="3.4" stroke-linecap="round"/>
<line x1="350.5" y1="451.8" x2="1236" y2="83.5" stroke="#FF0000" stroke-width="3.0" stroke-linecap="round"/>
<line x1="353" y1="449.1" x2="1295.2" y2="61.2" stroke="#A5A5A5" stroke-width="3.4" stroke-linecap="round"/>
<text x="319.6" y="461.5" font-size="19.3" font-weight="bold" text-anchor="end" textLength="35.3" lengthAdjust="spacingAndGlyphs">640</text>
<text x="342.8" y="491" font-size="19.3" font-weight="bold" text-anchor="middle" textLength="35.3" lengthAdjust="spacingAndGlyphs">640</text>
<text x="319.6" y="419" font-size="19.3" font-weight="bold" text-anchor="end" textLength="35.3" lengthAdjust="spacingAndGlyphs">660</text>
<text x="444.9" y="491" font-size="19.3" font-weight="bold" text-anchor="middle" textLength="35.3" lengthAdjust="spacingAndGlyphs">660</text>
<text x="319.6" y="376.5" font-size="19.3" font-weight="bold" text-anchor="end" textLength="35.3" lengthAdjust="spacingAndGlyphs">680</text>
<text x="547" y="491" font-size="19.3" font-weight="bold" text-anchor="middle" textLength="35.3" lengthAdjust="spacingAndGlyphs">680</text>
<text x="319.6" y="334.1" font-size="19.3" font-weight="bold" text-anchor="end" textLength="35.3" lengthAdjust="spacingAndGlyphs">700</text>
<text x="649" y="491" font-size="19.3" font-weight="bold" text-anchor="middle" textLength="35.3" lengthAdjust="spacingAndGlyphs">700</text>
<text x="319.6" y="291.6" font-size="19.3" font-weight="bold" text-anchor="end" textLength="35.3" lengthAdjust="spacingAndGlyphs">720</text>
<text x="751.1" y="491" font-size="19.3" font-weight="bold" text-anchor="middle" textLength="35.3" lengthAdjust="spacingAndGlyphs">720</text>
<text x="319.6" y="249.1" font-size="19.3" font-weight="bold" text-anchor="end" textLength="35.3" lengthAdjust="spacingAndGlyphs">740</text>
<text x="853.2" y="491" font-size="19.3" font-weight="bold" text-anchor="middle" textLength="35.3" lengthAdjust="spacingAndGlyphs">740</text>
<text x="319.6" y="206.6" font-size="19.3" font-weight="bold" text-anchor="end" textLength="35.3" lengthAdjust="spacingAndGlyphs">760</text>
<text x="955.3" y="491" font-size="19.3" font-weight="bold" text-anchor="middle" textLength="35.3" lengthAdjust="spacingAndGlyphs">760</text>
<text x="319.6" y="164.1" font-size="19.3" font-weight="bold" text-anchor="end" textLength="35.3" lengthAdjust="spacingAndGlyphs">780</text>
<text x="1057.4" y="491" font-size="19.3" font-weight="bold" text-anchor="middle" textLength="35.3" lengthAdjust="spacingAndGlyphs">780</text>
<text x="319.6" y="121.7" font-size="19.3" font-weight="bold" text-anchor="end" textLength="35.3" lengthAdjust="spacingAndGlyphs">800</text>
<text x="1159.4" y="491" font-size="19.3" font-weight="bold" text-anchor="middle" textLength="35.3" lengthAdjust="spacingAndGlyphs">800</text>
<text x="319.6" y="79.2" font-size="19.3" font-weight="bold" text-anchor="end" textLength="35.3" lengthAdjust="spacingAndGlyphs">820</text>
<text x="1261.5" y="491" font-size="19.3" font-weight="bold" text-anchor="middle" textLength="35.3" lengthAdjust="spacingAndGlyphs">820</text>
<text x="319.6" y="36.7" font-size="19.3" font-weight="bold" text-anchor="end" textLength="35.3" lengthAdjust="spacingAndGlyphs">840</text>
<text x="1363.6" y="491" font-size="19.3" font-weight="bold" text-anchor="middle" textLength="35.3" lengthAdjust="spacingAndGlyphs">840</text>
<text x="853.5" y="529" font-size="21" font-weight="bold" text-anchor="middle" textLength="172.2" lengthAdjust="spacingAndGlyphs">Predicted value</text>
<g transform="translate(268.3 241.8) rotate(-90)">
<text x="0" y="0" font-size="23.3" font-weight="bold" text-anchor="middle" textLength="108.5" lengthAdjust="spacingAndGlyphs">Real value</text>
</g>
<text x="934.8" y="61.7" font-size="20.3" textLength="110" lengthAdjust="spacingAndGlyphs">Testing: y =</text>
<text x="1124.8" y="61.7" font-size="20.3" textLength="27.5" lengthAdjust="spacingAndGlyphs">x +</text>
<text x="822.3" y="98.1" font-size="20.3" textLength="138.8" lengthAdjust="spacingAndGlyphs">Validation: y =</text>
<text x="1041.7" y="98.1" font-size="20.3" textLength="27.5" lengthAdjust="spacingAndGlyphs">x +</text>
<text x="1084.2" y="186.1" font-size="20.3" textLength="134.8" lengthAdjust="spacingAndGlyphs">Training: y = x</text>
<rect x="248.9" y="549" width="1118.8" height="77.5" fill="#fff" stroke="#000" stroke-width="2.3"/>
<circle cx="311.6" cy="568.5" r="6.6" fill="#00B0F0" stroke="#000" stroke-width="1.5"/>
<text x="343.8" y="574.8" font-size="19.7" font-weight="bold" textLength="145.3" lengthAdjust="spacingAndGlyphs">Training phase</text>
<line x1="285" y1="607.4" x2="339" y2="607.4" stroke="#4472C4" stroke-width="3.4" stroke-linecap="round"/>
<text x="343.8" y="613.8" font-size="19.7" font-weight="bold" textLength="228" lengthAdjust="spacingAndGlyphs">Linear (Training phase)</text>
<circle cx="684.7" cy="568.5" r="6.6" fill="#FF0000" stroke="#000" stroke-width="1.5"/>
<text x="716.4" y="574.8" font-size="19.7" font-weight="bold" textLength="167.5" lengthAdjust="spacingAndGlyphs">Validation phase</text>
<line x1="657.6" y1="607.4" x2="711.6" y2="607.4" stroke="#FF0000" stroke-width="3.4" stroke-linecap="round"/>
<text x="716.4" y="613.8" font-size="19.7" font-weight="bold" textLength="249.3" lengthAdjust="spacingAndGlyphs">Linear (Validation phase)</text>
<circle cx="1057.6" cy="568.5" r="6.6" fill="#A5A5A5" stroke="#000" stroke-width="1.5"/>
<text x="1089.7" y="574.8" font-size="19.7" font-weight="bold" textLength="136" lengthAdjust="spacingAndGlyphs">Testing phase</text>
<line x1="1030.9" y1="607.4" x2="1084.9" y2="607.4" stroke="#A5A5A5" stroke-width="3.4" stroke-linecap="round"/>
<text x="1089.7" y="613.8" font-size="19.7" font-weight="bold" textLength="218.5" lengthAdjust="spacingAndGlyphs">Linear (Testing phase)</text>
<rect x="183" y="671" width="1256" height="718.2" fill="#fff" stroke="#000" stroke-width="2.8"/>
<g stroke="#D9D9D9" stroke-width="2">
<line x1="423.6" y1="698.6" x2="423.6" y2="1168.6"/>
<line x1="530.9" y1="698.6" x2="530.9" y2="1168.6"/>
<line x1="638.3" y1="698.6" x2="638.3" y2="1168.6"/>
<line x1="745.6" y1="698.6" x2="745.6" y2="1168.6"/>
<line x1="852.9" y1="698.6" x2="852.9" y2="1168.6"/>
<line x1="960.2" y1="698.6" x2="960.2" y2="1168.6"/>
<line x1="1067.5" y1="698.6" x2="1067.5" y2="1168.6"/>
<line x1="1174.9" y1="698.6" x2="1174.9" y2="1168.6"/>
<line x1="1282.2" y1="698.6" x2="1282.2" y2="1168.6"/>
<line x1="316.3" y1="745.6" x2="1389.5" y2="745.6"/>
<line x1="316.3" y1="792.6" x2="1389.5" y2="792.6"/>
<line x1="316.3" y1="839.6" x2="1389.5" y2="839.6"/>
<line x1="316.3" y1="886.6" x2="1389.5" y2="886.6"/>
<line x1="316.3" y1="933.6" x2="1389.5" y2="933.6"/>
<line x1="316.3" y1="980.6" x2="1389.5" y2="980.6"/>
<line x1="316.3" y1="1027.6" x2="1389.5" y2="1027.6"/>
<line x1="316.3" y1="1074.6" x2="1389.5" y2="1074.6"/>
<line x1="316.3" y1="1121.6" x2="1389.5" y2="1121.6"/>
</g>
<rect x="316.3" y="698.6" width="1073.2" height="470" fill="none" stroke="#000" stroke-width="3.3"/>
<path d="M316.3 700.1V1168.6H1388.0" fill="none" stroke="#9a9a9a" stroke-width="2"/>
<g fill="#00B0F0" stroke="#000" stroke-width="1.5">
<circle cx="410.6" cy="1140.8" r="6.7"/><circle cx="411.1" cy="1123.6" r="6.7"/><circle cx="413.9" cy="1122.4" r="6.7"/><circle cx="414.2" cy="1122.9" r="6.7"/><circle cx="415.6" cy="1143" r="6.7"/><circle cx="416" cy="1118.6" r="6.7"/><circle cx="416.9" cy="1137.9" r="6.7"/><circle cx="417.6" cy="1141.5" r="6.7"/><circle cx="418.5" cy="1132.9" r="6.7"/><circle cx="419.1" cy="1138" r="6.7"/><circle cx="419.9" cy="1142.7" r="6.7"/><circle cx="420.6" cy="1136.6" r="6.7"/><circle cx="420.8" cy="1126.8" r="6.7"/><circle cx="421" cy="1142.3" r="6.7"/><circle cx="421.2" cy="1139.2" r="6.7"/><circle cx="421.3" cy="1117.5" r="6.7"/><circle cx="423.6" cy="1126.8" r="6.7"/><circle cx="425.1" cy="1129.6" r="6.7"/><circle cx="425.5" cy="1112.4" r="6.7"/><circle cx="428.8" cy="1108.4" r="6.7"/><circle cx="431.4" cy="1110.1" r="6.7"/><circle cx="436.5" cy="1098" r="6.7"/><circle cx="437.6" cy="1124.8" r="6.7"/><circle cx="440.1" cy="1125.9" r="6.7"/><circle cx="441.7" cy="1089.1" r="6.7"/><circle cx="442" cy="1102.6" r="6.7"/><circle cx="445.7" cy="1116.7" r="6.7"/><circle cx="446.1" cy="1089.2" r="6.7"/><circle cx="446.6" cy="1105.2" r="6.7"/><circle cx="447.6" cy="1119.9" r="6.7"/><circle cx="448.2" cy="1082.3" r="6.7"/><circle cx="448.2" cy="1102.1" r="6.7"/><circle cx="448.2" cy="1082.2" r="6.7"/><circle cx="448.3" cy="1120.8" r="6.7"/><circle cx="448.8" cy="1100.5" r="6.7"/><circle cx="449.2" cy="1081.2" r="6.7"/><circle cx="449.3" cy="1081.1" r="6.7"/><circle cx="449.7" cy="1080.7" r="6.7"/><circle cx="450.7" cy="1132.8" r="6.7"/><circle cx="451" cy="1098.9" r="6.7"/><circle cx="451.2" cy="1097.9" r="6.7"/><circle cx="451.3" cy="1101.5" r="6.7"/><circle cx="452.2" cy="1079.5" r="6.7"/><circle cx="452.3" cy="1122.1" r="6.7"/><circle cx="452.9" cy="1079.2" r="6.7"/><circle cx="453.5" cy="1120.5" r="6.7"/><circle cx="454.5" cy="1096.5" r="6.7"/><circle cx="455" cy="1108.7" r="6.7"/><circle cx="455.6" cy="1116.3" r="6.7"/><circle cx="456" cy="1129.3" r="6.7"/><circle cx="456.4" cy="1087" r="6.7"/><circle cx="456.5" cy="1118.3" r="6.7"/><circle cx="457.6" cy="1109.7" r="6.7"/><circle cx="457.6" cy="1105.8" r="6.7"/><circle cx="457.8" cy="1102.3" r="6.7"/><circle cx="458.2" cy="1131.2" r="6.7"/><circle cx="458.4" cy="1123" r="6.7"/><circle cx="458.7" cy="1138.4" r="6.7"/><circle cx="459.1" cy="1133.6" r="6.7"/><circle cx="459.1" cy="1076.6" r="6.7"/><circle cx="459.8" cy="1098.1" r="6.7"/><circle cx="461.3" cy="1126.3" r="6.7"/><circle cx="462.5" cy="1091.1" r="6.7"/><circle cx="464.1" cy="1074.5" r="6.7"/><circle cx="465.4" cy="1074" r="6.7"/><circle cx="466.6" cy="1134.1" r="6.7"/><circle cx="466.8" cy="1090.8" r="6.7"/><circle cx="467.1" cy="1104.5" r="6.7"/><circle cx="468.2" cy="1081.1" r="6.7"/><circle cx="470" cy="1106.4" r="6.7"/><circle cx="470" cy="1132.3" r="6.7"/><circle cx="471.4" cy="1078.7" r="6.7"/><circle cx="472.9" cy="1094.7" r="6.7"/><circle cx="473.9" cy="1083.4" r="6.7"/><circle cx="474.8" cy="1070.1" r="6.7"/><circle cx="476.6" cy="1072.6" r="6.7"/><circle cx="477.9" cy="1093.2" r="6.7"/><circle cx="478.2" cy="1121.2" r="6.7"/><circle cx="478.9" cy="1126.5" r="6.7"/><circle cx="479" cy="1102.9" r="6.7"/><circle cx="479.5" cy="1068.1" r="6.7"/><circle cx="479.7" cy="1103.6" r="6.7"/><circle cx="479.9" cy="1098" r="6.7"/><circle cx="480.2" cy="1096.6" r="6.7"/><circle cx="480.5" cy="1074" r="6.7"/><circle cx="480.8" cy="1088.8" r="6.7"/><circle cx="481.8" cy="1124.6" r="6.7"/><circle cx="482" cy="1124.4" r="6.7"/><circle cx="482" cy="1124.4" r="6.7"/><circle cx="482.6" cy="1114.8" r="6.7"/><circle cx="483.2" cy="1091.3" r="6.7"/><circle cx="484" cy="1094" r="6.7"/><circle cx="484.4" cy="1097.3" r="6.7"/><circle cx="484.9" cy="1102.3" r="6.7"/><circle cx="485.4" cy="1088.9" r="6.7"/><circle cx="486.9" cy="1075.6" r="6.7"/><circle cx="487.8" cy="1110.5" r="6.7"/><circle cx="488.9" cy="1088.6" r="6.7"/><circle cx="489.8" cy="1106.8" r="6.7"/><circle cx="491.2" cy="1090.6" r="6.7"/><circle cx="491.5" cy="1103.4" r="6.7"/><circle cx="493" cy="1102" r="6.7"/><circle cx="494.6" cy="1105.2" r="6.7"/><circle cx="495.1" cy="1104.7" r="6.7"/><circle cx="495.5" cy="1074.3" r="6.7"/><circle cx="496" cy="1061.3" r="6.7"/><circle cx="496" cy="1081.9" r="6.7"/><circle cx="497.8" cy="1114" r="6.7"/><circle cx="498.3" cy="1077.7" r="6.7"/><circle cx="498.4" cy="1068.3" r="6.7"/><circle cx="498.6" cy="1113.5" r="6.7"/><circle cx="499.4" cy="1066" r="6.7"/><circle cx="500.6" cy="1071.4" r="6.7"/><circle cx="500.7" cy="1075.5" r="6.7"/><circle cx="501.1" cy="1071.2" r="6.7"/><circle cx="501.7" cy="1070.6" r="6.7"/><circle cx="502.1" cy="1101.9" r="6.7"/><circle cx="503.2" cy="1091.7" r="6.7"/><circle cx="504.2" cy="1088.9" r="6.7"/><circle cx="504.8" cy="1056.3" r="6.7"/><circle cx="507.6" cy="1091.3" r="6.7"/><circle cx="508.5" cy="1086.8" r="6.7"/><circle cx="508.8" cy="1085.6" r="6.7"/><circle cx="509.3" cy="1098.1" r="6.7"/><circle cx="510.1" cy="1090.5" r="6.7"/><circle cx="510.7" cy="1082.1" r="6.7"/><circle cx="511" cy="1089" r="6.7"/><circle cx="511" cy="1068.5" r="6.7"/><circle cx="512.4" cy="1059.8" r="6.7"/><circle cx="513" cy="1050.6" r="6.7"/><circle cx="513.6" cy="1092.2" r="6.7"/><circle cx="514.4" cy="1068.6" r="6.7"/><circle cx="515.7" cy="1079.7" r="6.7"/><circle cx="515.9" cy="1100.7" r="6.7"/><circle cx="516.1" cy="1107.5" r="6.7"/><circle cx="516.3" cy="1079" r="6.7"/><circle cx="516.6" cy="1081.4" r="6.7"/><circle cx="516.9" cy="1080.3" r="6.7"/><circle cx="517" cy="1051.8" r="6.7"/><circle cx="518.1" cy="1062.2" r="6.7"/><circle cx="519.4" cy="1106.5" r="6.7"/><circle cx="519.9" cy="1085.8" r="6.7"/><circle cx="521" cy="1106" r="6.7"/><circle cx="521.7" cy="1098.9" r="6.7"/><circle cx="521.7" cy="1105.8" r="6.7"/><circle cx="523.1" cy="1105.3" r="6.7"/><circle cx="523.8" cy="1086.3" r="6.7"/><circle cx="524.6" cy="1050.1" r="6.7"/><circle cx="526.3" cy="1098.8" r="6.7"/><circle cx="526.4" cy="1093.3" r="6.7"/><circle cx="527.3" cy="1087" r="6.7"/><circle cx="527.4" cy="1094" r="6.7"/><circle cx="529.2" cy="1058.6" r="6.7"/><circle cx="529.3" cy="1071.7" r="6.7"/><circle cx="530.2" cy="1071" r="6.7"/><circle cx="532.7" cy="1036.9" r="6.7"/><circle cx="533.3" cy="1036.5" r="6.7"/><circle cx="533.7" cy="1059.8" r="6.7"/><circle cx="534.8" cy="1035.4" r="6.7"/><circle cx="535.2" cy="1074.7" r="6.7"/><circle cx="535.3" cy="1087" r="6.7"/><circle cx="536.8" cy="1069.6" r="6.7"/><circle cx="536.9" cy="1074.3" r="6.7"/><circle cx="537.2" cy="1033.7" r="6.7"/><circle cx="538.3" cy="1062.6" r="6.7"/><circle cx="538.5" cy="1083" r="6.7"/><circle cx="538.7" cy="1081.4" r="6.7"/><circle cx="538.7" cy="1090.6" r="6.7"/><circle cx="539" cy="1069.7" r="6.7"/><circle cx="539.6" cy="1100.1" r="6.7"/><circle cx="540.2" cy="1085.1" r="6.7"/><circle cx="540.5" cy="1087.8" r="6.7"/><circle cx="540.5" cy="1095.1" r="6.7"/><circle cx="541" cy="1053.4" r="6.7"/><circle cx="541.1" cy="1036.6" r="6.7"/><circle cx="541.5" cy="1077.5" r="6.7"/><circle cx="542" cy="1038" r="6.7"/><circle cx="542.2" cy="1045.3" r="6.7"/><circle cx="542.3" cy="1083.8" r="6.7"/><circle cx="543.4" cy="1042.1" r="6.7"/><circle cx="544.1" cy="1036.1" r="6.7"/><circle cx="544.2" cy="1028.9" r="6.7"/><circle cx="545.6" cy="1031" r="6.7"/><circle cx="545.9" cy="1098.1" r="6.7"/><circle cx="546.6" cy="1083.2" r="6.7"/><circle cx="547.8" cy="1089.2" r="6.7"/><circle cx="547.8" cy="1026.4" r="6.7"/><circle cx="548.8" cy="1025.7" r="6.7"/><circle cx="549.2" cy="1025.4" r="6.7"/><circle cx="550.5" cy="1077.6" r="6.7"/><circle cx="551.6" cy="1092.1" r="6.7"/><circle cx="553.2" cy="1023.5" r="6.7"/><circle cx="553.3" cy="1023.5" r="6.7"/><circle cx="554.1" cy="1064.6" r="6.7"/><circle cx="554.8" cy="1065.9" r="6.7"/><circle cx="554.8" cy="1070.7" r="6.7"/><circle cx="555.1" cy="1077.1" r="6.7"/><circle cx="555.2" cy="1037.3" r="6.7"/><circle cx="555.5" cy="1057" r="6.7"/><circle cx="555.8" cy="1050.9" r="6.7"/><circle cx="556" cy="1086.7" r="6.7"/><circle cx="557.3" cy="1055.6" r="6.7"/><circle cx="558.1" cy="1021.5" r="6.7"/><circle cx="558.8" cy="1078.5" r="6.7"/><circle cx="559" cy="1093.7" r="6.7"/><circle cx="560.4" cy="1089.9" r="6.7"/><circle cx="560.5" cy="1054.7" r="6.7"/><circle cx="561.3" cy="1032.1" r="6.7"/><circle cx="563.1" cy="1075.1" r="6.7"/><circle cx="563.6" cy="1045.8" r="6.7"/><circle cx="564.1" cy="1065.7" r="6.7"/><circle cx="564.3" cy="1076.1" r="6.7"/><circle cx="565.6" cy="1055" r="6.7"/><circle cx="566.4" cy="1018" r="6.7"/><circle cx="568.3" cy="1055.4" r="6.7"/><circle cx="568.4" cy="1028.5" r="6.7"/><circle cx="569" cy="1017" r="6.7"/><circle cx="569.2" cy="1042.7" r="6.7"/><circle cx="569.7" cy="1053.7" r="6.7"/><circle cx="569.9" cy="1050.2" r="6.7"/><circle cx="570.1" cy="1067.4" r="6.7"/><circle cx="570.7" cy="1016.3" r="6.7"/><circle cx="570.9" cy="1057.4" r="6.7"/><circle cx="571.7" cy="1089.1" r="6.7"/><circle cx="572.2" cy="1057.6" r="6.7"/><circle cx="572.3" cy="1040" r="6.7"/><circle cx="572.8" cy="1044.5" r="6.7"/><circle cx="572.8" cy="1080.3" r="6.7"/><circle cx="573.1" cy="1052.2" r="6.7"/><circle cx="573.3" cy="1031.4" r="6.7"/><circle cx="574" cy="1014.9" r="6.7"/><circle cx="574.2" cy="1076.5" r="6.7"/><circle cx="575" cy="1087.9" r="6.7"/><circle cx="575.1" cy="1058.7" r="6.7"/><circle cx="575.4" cy="1087.8" r="6.7"/><circle cx="575.5" cy="1051.1" r="6.7"/><circle cx="576" cy="1068.3" r="6.7"/><circle cx="577.3" cy="1020.5" r="6.7"/><circle cx="578.2" cy="1018.2" r="6.7"/><circle cx="578.8" cy="1042.6" r="6.7"/><circle cx="579.1" cy="1059.6" r="6.7"/><circle cx="579.2" cy="1066.5" r="6.7"/><circle cx="580.3" cy="1029.6" r="6.7"/><circle cx="582.1" cy="1030.8" r="6.7"/><circle cx="582.8" cy="1041.4" r="6.7"/><circle cx="582.8" cy="1039.3" r="6.7"/><circle cx="582.9" cy="1039.4" r="6.7"/><circle cx="583.1" cy="1066.3" r="6.7"/><circle cx="583.8" cy="1080.2" r="6.7"/><circle cx="584.2" cy="1010.6" r="6.7"/><circle cx="585" cy="1072" r="6.7"/><circle cx="585.7" cy="1056.1" r="6.7"/><circle cx="585.9" cy="1056.7" r="6.7"/><circle cx="585.9" cy="1057.1" r="6.7"/><circle cx="586" cy="1072.1" r="6.7"/><circle cx="586.5" cy="1069" r="6.7"/><circle cx="586.7" cy="1012.4" r="6.7"/><circle cx="587" cy="1061.3" r="6.7"/><circle cx="587.2" cy="1020.9" r="6.7"/><circle cx="587.3" cy="1050.8" r="6.7"/><circle cx="589.4" cy="1051.8" r="6.7"/><circle cx="589.5" cy="1008.5" r="6.7"/><circle cx="589.5" cy="1038.2" r="6.7"/><circle cx="591.9" cy="1036.6" r="6.7"/><circle cx="593.1" cy="1025.5" r="6.7"/><circle cx="594" cy="1081.2" r="6.7"/><circle cx="594.5" cy="1057.1" r="6.7"/><circle cx="596" cy="1036.3" r="6.7"/><circle cx="597" cy="1080.2" r="6.7"/><circle cx="597.8" cy="1050.1" r="6.7"/><circle cx="598" cy="1040.4" r="6.7"/><circle cx="598.5" cy="1004.7" r="6.7"/><circle cx="599" cy="1046.8" r="6.7"/><circle cx="600.3" cy="1067.7" r="6.7"/><circle cx="601" cy="1078.5" r="6.7"/><circle cx="601.1" cy="1026.2" r="6.7"/><circle cx="601.8" cy="1064.1" r="6.7"/><circle cx="603.8" cy="1076.9" r="6.7"/><circle cx="604.1" cy="1065.7" r="6.7"/><circle cx="604.8" cy="1044.8" r="6.7"/><circle cx="606" cy="1002.7" r="6.7"/><circle cx="606.9" cy="1035.4" r="6.7"/><circle cx="607.4" cy="1024.2" r="6.7"/><circle cx="607.8" cy="1002.2" r="6.7"/><circle cx="608.6" cy="1043.6" r="6.7"/><circle cx="609.3" cy="1035.9" r="6.7"/><circle cx="610.6" cy="1031.1" r="6.7"/><circle cx="611.6" cy="1072.4" r="6.7"/><circle cx="611.7" cy="1033.1" r="6.7"/><circle cx="613.2" cy="1001" r="6.7"/><circle cx="613.5" cy="1000.9" r="6.7"/><circle cx="616" cy="1034.8" r="6.7"/><circle cx="616.6" cy="1029.5" r="6.7"/><circle cx="617.1" cy="1015.7" r="6.7"/><circle cx="617.2" cy="1000" r="6.7"/><circle cx="617.3" cy="1004.2" r="6.7"/><circle cx="617.7" cy="1001.9" r="6.7"/><circle cx="618.1" cy="1024.8" r="6.7"/><circle cx="621.1" cy="1011.1" r="6.7"/><circle cx="621.8" cy="1008" r="6.7"/><circle cx="623.5" cy="1025.7" r="6.7"/><circle cx="624.3" cy="1012.2" r="6.7"/><circle cx="624.6" cy="1034.5" r="6.7"/><circle cx="624.6" cy="998.3" r="6.7"/><circle cx="625.1" cy="998.2" r="6.7"/><circle cx="626.8" cy="1048.5" r="6.7"/><circle cx="627.1" cy="1038.1" r="6.7"/><circle cx="627.3" cy="1007.3" r="6.7"/><circle cx="628.7" cy="1020.5" r="6.7"/><circle cx="629.6" cy="1014.4" r="6.7"/><circle cx="630.3" cy="1017.5" r="6.7"/><circle cx="630.8" cy="1057.3" r="6.7"/><circle cx="631.9" cy="1024.5" r="6.7"/><circle cx="635.3" cy="1030.2" r="6.7"/><circle cx="635.5" cy="1009" r="6.7"/><circle cx="635.5" cy="1007" r="6.7"/><circle cx="636.4" cy="995.5" r="6.7"/><circle cx="636.9" cy="1004.6" r="6.7"/><circle cx="637.4" cy="1012.6" r="6.7"/><circle cx="638" cy="1016.2" r="6.7"/><circle cx="638.7" cy="1024.3" r="6.7"/><circle cx="639.2" cy="1026.6" r="6.7"/><circle cx="639.5" cy="1038.7" r="6.7"/><circle cx="639.6" cy="1023" r="6.7"/><circle cx="639.6" cy="1051.6" r="6.7"/><circle cx="639.8" cy="1042.5" r="6.7"/><circle cx="641.6" cy="1055.2" r="6.7"/><circle cx="641.6" cy="1029.2" r="6.7"/><circle cx="641.7" cy="1049.9" r="6.7"/><circle cx="642.4" cy="1030.7" r="6.7"/><circle cx="642.5" cy="994.1" r="6.7"/><circle cx="642.7" cy="1016.6" r="6.7"/><circle cx="642.7" cy="1018.6" r="6.7"/><circle cx="646.6" cy="993.1" r="6.7"/><circle cx="646.8" cy="996.2" r="6.7"/><circle cx="647" cy="1004.6" r="6.7"/><circle cx="647.4" cy="1051.8" r="6.7"/><circle cx="647.8" cy="1036" r="6.7"/><circle cx="647.9" cy="1051.5" r="6.7"/><circle cx="648.6" cy="1047.4" r="6.7"/><circle cx="649.7" cy="1047.2" r="6.7"/><circle cx="650" cy="1041.9" r="6.7"/><circle cx="650.7" cy="995.7" r="6.7"/><circle cx="651.8" cy="1039.4" r="6.7"/><circle cx="653.8" cy="1003.7" r="6.7"/><circle cx="654.2" cy="1024.4" r="6.7"/><circle cx="655" cy="1017.9" r="6.7"/><circle cx="656" cy="1047.2" r="6.7"/><circle cx="656.7" cy="1046.8" r="6.7"/><circle cx="657.6" cy="1046.4" r="6.7"/><circle cx="658.3" cy="1034.9" r="6.7"/><circle cx="658.4" cy="1021.2" r="6.7"/><circle cx="658.4" cy="1032.9" r="6.7"/><circle cx="658.7" cy="1045.8" r="6.7"/><circle cx="659.4" cy="1036.6" r="6.7"/><circle cx="660" cy="1021.7" r="6.7"/><circle cx="660.7" cy="994.6" r="6.7"/><circle cx="660.8" cy="998.2" r="6.7"/><circle cx="663.1" cy="1010.5" r="6.7"/><circle cx="663.2" cy="1027.2" r="6.7"/><circle cx="663.2" cy="1029.5" r="6.7"/><circle cx="663.8" cy="1016.4" r="6.7"/><circle cx="664.7" cy="1017.7" r="6.7"/><circle cx="665.3" cy="1042.4" r="6.7"/><circle cx="665.6" cy="1042.3" r="6.7"/><circle cx="667.4" cy="1041.3" r="6.7"/><circle cx="667.4" cy="1041.3" r="6.7"/><circle cx="667.8" cy="1041.1" r="6.7"/><circle cx="668" cy="1041.1" r="6.7"/><circle cx="669.3" cy="998.3" r="6.7"/><circle cx="669.9" cy="1000.8" r="6.7"/><circle cx="670.9" cy="1014.5" r="6.7"/><circle cx="671.9" cy="1019.6" r="6.7"/><circle cx="671.9" cy="1037.7" r="6.7"/><circle cx="673.1" cy="985" r="6.7"/><circle cx="674.4" cy="1008.3" r="6.7"/><circle cx="674.7" cy="1015.2" r="6.7"/><circle cx="674.8" cy="999.9" r="6.7"/><circle cx="675.1" cy="1006.3" r="6.7"/><circle cx="675.6" cy="1027.6" r="6.7"/><circle cx="676.1" cy="1022.2" r="6.7"/><circle cx="677.4" cy="1010.1" r="6.7"/><circle cx="678.5" cy="1013.2" r="6.7"/><circle cx="680" cy="1007.6" r="6.7"/><circle cx="680.1" cy="1025" r="6.7"/><circle cx="680.1" cy="1010.4" r="6.7"/><circle cx="680.5" cy="1026.2" r="6.7"/><circle cx="680.7" cy="1002.6" r="6.7"/><circle cx="680.8" cy="1006.9" r="6.7"/><circle cx="681.5" cy="988.7" r="6.7"/><circle cx="681.6" cy="1001" r="6.7"/><circle cx="681.7" cy="1021.4" r="6.7"/><circle cx="682" cy="993.4" r="6.7"/><circle cx="682.6" cy="999" r="6.7"/><circle cx="682.9" cy="1008" r="6.7"/><circle cx="683" cy="1001.8" r="6.7"/><circle cx="683.7" cy="1020.8" r="6.7"/><circle cx="684.1" cy="988.8" r="6.7"/><circle cx="684.2" cy="1018.4" r="6.7"/><circle cx="684.7" cy="1032.1" r="6.7"/><circle cx="684.8" cy="1032.4" r="6.7"/><circle cx="684.8" cy="1012.8" r="6.7"/><circle cx="686.9" cy="993.9" r="6.7"/><circle cx="687.9" cy="980.4" r="6.7"/><circle cx="688.6" cy="1011.4" r="6.7"/><circle cx="689.1" cy="1020.4" r="6.7"/><circle cx="689.1" cy="1013.4" r="6.7"/><circle cx="689.8" cy="1012.5" r="6.7"/><circle cx="692.6" cy="1016.7" r="6.7"/><circle cx="693.2" cy="1000.4" r="6.7"/><circle cx="693.8" cy="978.6" r="6.7"/><circle cx="694.1" cy="978.4" r="6.7"/><circle cx="694.9" cy="984.5" r="6.7"/><circle cx="695.5" cy="984.1" r="6.7"/><circle cx="696" cy="977.8" r="6.7"/><circle cx="696.1" cy="989.6" r="6.7"/><circle cx="696.8" cy="982.8" r="6.7"/><circle cx="697.4" cy="1008.8" r="6.7"/><circle cx="697.7" cy="1002.1" r="6.7"/><circle cx="698.3" cy="1014.6" r="6.7"/><circle cx="699.2" cy="982.5" r="6.7"/><circle cx="700.8" cy="978.9" r="6.7"/><circle cx="702" cy="975" r="6.7"/><circle cx="703.2" cy="997.7" r="6.7"/><circle cx="704.9" cy="1022.5" r="6.7"/><circle cx="705" cy="1012.1" r="6.7"/><circle cx="705" cy="993.7" r="6.7"/><circle cx="706.1" cy="1000.2" r="6.7"/><circle cx="708.9" cy="995.9" r="6.7"/><circle cx="709.1" cy="1012.2" r="6.7"/><circle cx="709.8" cy="998.6" r="6.7"/><circle cx="710.2" cy="980.5" r="6.7"/><circle cx="710.7" cy="968.5" r="6.7"/><circle cx="712.5" cy="992.8" r="6.7"/><circle cx="712.9" cy="1011" r="6.7"/><circle cx="713.1" cy="999.5" r="6.7"/><circle cx="714.1" cy="978.3" r="6.7"/><circle cx="714.2" cy="982.2" r="6.7"/><circle cx="715" cy="984.4" r="6.7"/><circle cx="716.8" cy="1000.1" r="6.7"/><circle cx="717" cy="991.8" r="6.7"/><circle cx="717.2" cy="1012.3" r="6.7"/><circle cx="717.2" cy="991.6" r="6.7"/><circle cx="717.7" cy="979.2" r="6.7"/><circle cx="718.1" cy="1017" r="6.7"/><circle cx="718.3" cy="978.4" r="6.7"/><circle cx="718.3" cy="973.6" r="6.7"/><circle cx="718.7" cy="1016.8" r="6.7"/><circle cx="719" cy="1002.1" r="6.7"/><circle cx="719.2" cy="1016.6" r="6.7"/><circle cx="720.2" cy="961.3" r="6.7"/><circle cx="720.4" cy="1004.5" r="6.7"/><circle cx="720.4" cy="992.2" r="6.7"/><circle cx="721.3" cy="991.2" r="6.7"/><circle cx="721.5" cy="998.2" r="6.7"/><circle cx="722.2" cy="959.8" r="6.7"/><circle cx="722.7" cy="961.1" r="6.7"/><circle cx="722.7" cy="990.8" r="6.7"/><circle cx="723.8" cy="1014.7" r="6.7"/><circle cx="723.8" cy="985.3" r="6.7"/><circle cx="724" cy="1014.6" r="6.7"/><circle cx="724.3" cy="1007.8" r="6.7"/><circle cx="724.5" cy="1010.4" r="6.7"/><circle cx="724.9" cy="973.1" r="6.7"/><circle cx="726.3" cy="994.7" r="6.7"/><circle cx="727.8" cy="970.1" r="6.7"/><circle cx="728.1" cy="958.3" r="6.7"/><circle cx="728.1" cy="1004.1" r="6.7"/><circle cx="728.9" cy="974.5" r="6.7"/><circle cx="730.3" cy="971.5" r="6.7"/><circle cx="730.5" cy="994.5" r="6.7"/><circle cx="730.7" cy="969.5" r="6.7"/><circle cx="730.8" cy="955.5" r="6.7"/><circle cx="730.9" cy="981.9" r="6.7"/><circle cx="731.3" cy="987.9" r="6.7"/><circle cx="733.4" cy="1010.7" r="6.7"/><circle cx="733.5" cy="965.3" r="6.7"/><circle cx="733.5" cy="992.5" r="6.7"/><circle cx="733.6" cy="997.9" r="6.7"/><circle cx="733.7" cy="975.8" r="6.7"/><circle cx="735.1" cy="976" r="6.7"/><circle cx="735.6" cy="979.7" r="6.7"/><circle cx="735.8" cy="959.1" r="6.7"/><circle cx="735.9" cy="949.5" r="6.7"/><circle cx="736.3" cy="987.9" r="6.7"/><circle cx="737" cy="959.2" r="6.7"/><circle cx="737.5" cy="955.1" r="6.7"/><circle cx="738" cy="990.1" r="6.7"/><circle cx="738.8" cy="969.3" r="6.7"/><circle cx="739.7" cy="967.4" r="6.7"/><circle cx="740" cy="946.4" r="6.7"/><circle cx="740.5" cy="946" r="6.7"/><circle cx="741.1" cy="945.5" r="6.7"/><circle cx="741.6" cy="945.2" r="6.7"/><circle cx="741.6" cy="995.1" r="6.7"/><circle cx="741.7" cy="959.7" r="6.7"/><circle cx="742" cy="944.9" r="6.7"/><circle cx="742.1" cy="944.8" r="6.7"/><circle cx="742.1" cy="983.6" r="6.7"/><circle cx="742.7" cy="952.3" r="6.7"/><circle cx="743.4" cy="969" r="6.7"/><circle cx="743.4" cy="953.5" r="6.7"/><circle cx="744.3" cy="943.1" r="6.7"/><circle cx="744.6" cy="953.6" r="6.7"/><circle cx="745.1" cy="947.4" r="6.7"/><circle cx="745.9" cy="971.2" r="6.7"/><circle cx="745.9" cy="987.5" r="6.7"/><circle cx="747.7" cy="973.1" r="6.7"/><circle cx="749" cy="1004.2" r="6.7"/><circle cx="749.9" cy="958.6" r="6.7"/><circle cx="750.1" cy="997" r="6.7"/><circle cx="750.5" cy="984.5" r="6.7"/><circle cx="751.3" cy="1003" r="6.7"/><circle cx="752" cy="987.6" r="6.7"/><circle cx="752.5" cy="938" r="6.7"/><circle cx="753.3" cy="953.2" r="6.7"/><circle cx="753.8" cy="987.9" r="6.7"/><circle cx="753.8" cy="972.9" r="6.7"/><circle cx="758.2" cy="939.4" r="6.7"/><circle cx="758.4" cy="949.5" r="6.7"/><circle cx="758.8" cy="970.2" r="6.7"/><circle cx="759.4" cy="993.4" r="6.7"/><circle cx="759.4" cy="958.8" r="6.7"/><circle cx="759.5" cy="966.8" r="6.7"/><circle cx="759.6" cy="946.2" r="6.7"/><circle cx="760.3" cy="936.1" r="6.7"/><circle cx="761.1" cy="948.4" r="6.7"/><circle cx="761.6" cy="990.6" r="6.7"/><circle cx="761.9" cy="985.6" r="6.7"/><circle cx="762.6" cy="963" r="6.7"/><circle cx="763.3" cy="963.5" r="6.7"/><circle cx="763.6" cy="975.6" r="6.7"/><circle cx="763.9" cy="963.8" r="6.7"/><circle cx="764.4" cy="954.6" r="6.7"/><circle cx="765.3" cy="955.3" r="6.7"/><circle cx="765.6" cy="975.3" r="6.7"/><circle cx="765.8" cy="957.3" r="6.7"/><circle cx="765.8" cy="978.6" r="6.7"/><circle cx="766" cy="933.7" r="6.7"/><circle cx="767.4" cy="939.2" r="6.7"/><circle cx="769.3" cy="948.1" r="6.7"/><circle cx="769.5" cy="971.3" r="6.7"/><circle cx="770.4" cy="943.8" r="6.7"/><circle cx="771.9" cy="945.9" r="6.7"/><circle cx="771.9" cy="964.3" r="6.7"/><circle cx="772.7" cy="958.8" r="6.7"/><circle cx="773.6" cy="945.6" r="6.7"/><circle cx="774.1" cy="949.9" r="6.7"/><circle cx="774.9" cy="938.2" r="6.7"/><circle cx="775.5" cy="971.6" r="6.7"/><circle cx="776.4" cy="970.4" r="6.7"/><circle cx="776.4" cy="978.9" r="6.7"/><circle cx="777.2" cy="991.9" r="6.7"/><circle cx="777.4" cy="991.9" r="6.7"/><circle cx="778.1" cy="976.1" r="6.7"/><circle cx="778.3" cy="960.3" r="6.7"/><circle cx="781" cy="990.3" r="6.7"/><circle cx="781.5" cy="972.5" r="6.7"/><circle cx="782.2" cy="956.5" r="6.7"/><circle cx="782.7" cy="984.3" r="6.7"/><circle cx="782.8" cy="972.4" r="6.7"/><circle cx="783.5" cy="956" r="6.7"/><circle cx="783.9" cy="967" r="6.7"/><circle cx="784.7" cy="988.7" r="6.7"/><circle cx="785.1" cy="969.9" r="6.7"/><circle cx="785.1" cy="968.9" r="6.7"/><circle cx="785.8" cy="943.2" r="6.7"/><circle cx="786.6" cy="946.2" r="6.7"/><circle cx="786.7" cy="974.6" r="6.7"/><circle cx="787.1" cy="960.3" r="6.7"/><circle cx="787.5" cy="961.8" r="6.7"/><circle cx="787.6" cy="982" r="6.7"/><circle cx="787.8" cy="957.2" r="6.7"/><circle cx="788" cy="987.2" r="6.7"/><circle cx="788.8" cy="952.2" r="6.7"/><circle cx="788.8" cy="942.4" r="6.7"/><circle cx="789.9" cy="939.1" r="6.7"/><circle cx="790" cy="926.2" r="6.7"/><circle cx="790.2" cy="962.8" r="6.7"/><circle cx="790.7" cy="959.5" r="6.7"/><circle cx="791.6" cy="985.6" r="6.7"/><circle cx="791.7" cy="948.6" r="6.7"/><circle cx="792.8" cy="970.5" r="6.7"/><circle cx="793.1" cy="985" r="6.7"/><circle cx="793.9" cy="958.1" r="6.7"/><circle cx="794" cy="953.5" r="6.7"/><circle cx="794.5" cy="924.7" r="6.7"/><circle cx="794.9" cy="984.2" r="6.7"/><circle cx="795.7" cy="958.9" r="6.7"/><circle cx="796.8" cy="969.5" r="6.7"/><circle cx="796.8" cy="947.8" r="6.7"/><circle cx="797.1" cy="960.4" r="6.7"/><circle cx="797.2" cy="933.3" r="6.7"/><circle cx="798.2" cy="965.1" r="6.7"/><circle cx="798.6" cy="958.5" r="6.7"/><circle cx="800.8" cy="946.9" r="6.7"/><circle cx="801.1" cy="960.4" r="6.7"/><circle cx="801.5" cy="922.2" r="6.7"/><circle cx="801.6" cy="949.3" r="6.7"/><circle cx="804.5" cy="941.9" r="6.7"/><circle cx="804.8" cy="977.5" r="6.7"/><circle cx="805.3" cy="971" r="6.7"/><circle cx="806.1" cy="950.6" r="6.7"/><circle cx="806.2" cy="944.3" r="6.7"/><circle cx="806.6" cy="978.1" r="6.7"/><circle cx="806.6" cy="941.6" r="6.7"/><circle cx="806.9" cy="977.9" r="6.7"/><circle cx="807.1" cy="974.5" r="6.7"/><circle cx="808" cy="969.1" r="6.7"/><circle cx="808.6" cy="918.4" r="6.7"/><circle cx="808.7" cy="957.9" r="6.7"/><circle cx="809.4" cy="940" r="6.7"/><circle cx="812.4" cy="926.9" r="6.7"/><circle cx="812.8" cy="953.6" r="6.7"/><circle cx="813.5" cy="933.1" r="6.7"/><circle cx="813.9" cy="953.9" r="6.7"/><circle cx="815.1" cy="927.9" r="6.7"/><circle cx="815.4" cy="952.4" r="6.7"/><circle cx="815.4" cy="954.3" r="6.7"/><circle cx="816.4" cy="929.2" r="6.7"/><circle cx="817.4" cy="921.5" r="6.7"/><circle cx="817.5" cy="925.4" r="6.7"/><circle cx="817.8" cy="928.8" r="6.7"/><circle cx="817.9" cy="928.1" r="6.7"/><circle cx="819.3" cy="970.5" r="6.7"/><circle cx="819.3" cy="956.2" r="6.7"/><circle cx="820.3" cy="937.2" r="6.7"/><circle cx="820.3" cy="933.8" r="6.7"/><circle cx="820.9" cy="923.5" r="6.7"/><circle cx="824" cy="940.6" r="6.7"/><circle cx="824.6" cy="937.4" r="6.7"/><circle cx="825.3" cy="924.7" r="6.7"/><circle cx="826.4" cy="921.3" r="6.7"/><circle cx="826.7" cy="926" r="6.7"/><circle cx="826.9" cy="914.5" r="6.7"/><circle cx="827.1" cy="934.5" r="6.7"/><circle cx="830.1" cy="917.2" r="6.7"/><circle cx="831.2" cy="941.2" r="6.7"/><circle cx="831.5" cy="929.4" r="6.7"/><circle cx="832.3" cy="943" r="6.7"/><circle cx="833.2" cy="924.2" r="6.7"/><circle cx="834.2" cy="904.7" r="6.7"/><circle cx="837" cy="903.2" r="6.7"/><circle cx="838.1" cy="918.8" r="6.7"/><circle cx="839.2" cy="935" r="6.7"/><circle cx="840.8" cy="938" r="6.7"/><circle cx="841.4" cy="940.5" r="6.7"/><circle cx="844.6" cy="942.5" r="6.7"/><circle cx="846.2" cy="936.3" r="6.7"/><circle cx="847.5" cy="935.9" r="6.7"/><circle cx="848.9" cy="922.8" r="6.7"/><circle cx="849.1" cy="934.9" r="6.7"/><circle cx="850.2" cy="924.2" r="6.7"/><circle cx="850.8" cy="922.6" r="6.7"/><circle cx="852.3" cy="926.4" r="6.7"/><circle cx="853.1" cy="950.5" r="6.7"/><circle cx="853.4" cy="903.9" r="6.7"/><circle cx="853.6" cy="909.8" r="6.7"/><circle cx="853.7" cy="915" r="6.7"/><circle cx="853.9" cy="928.9" r="6.7"/><circle cx="855.3" cy="923.2" r="6.7"/><circle cx="857.5" cy="948.1" r="6.7"/><circle cx="859.1" cy="896.7" r="6.7"/><circle cx="860.5" cy="946.4" r="6.7"/><circle cx="860.7" cy="901.3" r="6.7"/><circle cx="860.7" cy="902" r="6.7"/><circle cx="861.5" cy="925.5" r="6.7"/><circle cx="861.9" cy="921.2" r="6.7"/><circle cx="862.1" cy="918.3" r="6.7"/><circle cx="862.2" cy="919.5" r="6.7"/><circle cx="863.5" cy="925" r="6.7"/><circle cx="864.5" cy="936.3" r="6.7"/><circle cx="865.9" cy="927.6" r="6.7"/><circle cx="866.2" cy="894.8" r="6.7"/><circle cx="867.2" cy="897.4" r="6.7"/><circle cx="867.4" cy="937.3" r="6.7"/><circle cx="867.7" cy="942.4" r="6.7"/><circle cx="868.1" cy="940.4" r="6.7"/><circle cx="868.8" cy="939.6" r="6.7"/><circle cx="869.1" cy="925.1" r="6.7"/><circle cx="869.6" cy="941.3" r="6.7"/><circle cx="870" cy="911.2" r="6.7"/><circle cx="870.5" cy="906.7" r="6.7"/><circle cx="871.3" cy="897.2" r="6.7"/><circle cx="871.6" cy="938.9" r="6.7"/><circle cx="872.1" cy="908" r="6.7"/><circle cx="872.4" cy="921" r="6.7"/><circle cx="872.5" cy="888.3" r="6.7"/><circle cx="873.9" cy="883" r="6.7"/><circle cx="873.9" cy="923.7" r="6.7"/><circle cx="873.9" cy="927.3" r="6.7"/><circle cx="874.5" cy="930.3" r="6.7"/><circle cx="874.7" cy="918.9" r="6.7"/><circle cx="875.6" cy="906.9" r="6.7"/><circle cx="876.8" cy="901.8" r="6.7"/><circle cx="877.3" cy="887.6" r="6.7"/><circle cx="877.6" cy="898.2" r="6.7"/><circle cx="878.3" cy="932.1" r="6.7"/><circle cx="879.3" cy="910.4" r="6.7"/><circle cx="879.6" cy="884.5" r="6.7"/><circle cx="879.6" cy="899.3" r="6.7"/><circle cx="881.3" cy="887.5" r="6.7"/><circle cx="882.4" cy="881.7" r="6.7"/><circle cx="882.8" cy="899.7" r="6.7"/><circle cx="883.6" cy="890.7" r="6.7"/><circle cx="883.9" cy="879.6" r="6.7"/><circle cx="884.5" cy="928.8" r="6.7"/><circle cx="886.1" cy="932.2" r="6.7"/><circle cx="886.2" cy="914.8" r="6.7"/><circle cx="886.5" cy="932" r="6.7"/><circle cx="889.1" cy="900.6" r="6.7"/><circle cx="889.2" cy="902" r="6.7"/><circle cx="889.2" cy="927.2" r="6.7"/><circle cx="889.4" cy="913.3" r="6.7"/><circle cx="889.6" cy="920.1" r="6.7"/><circle cx="889.7" cy="874.2" r="6.7"/><circle cx="890.6" cy="898" r="6.7"/><circle cx="891.2" cy="893.1" r="6.7"/><circle cx="892.3" cy="897.4" r="6.7"/><circle cx="893.3" cy="872.2" r="6.7"/><circle cx="893.6" cy="880.2" r="6.7"/><circle cx="893.6" cy="907.4" r="6.7"/><circle cx="898.5" cy="909.9" r="6.7"/><circle cx="898.8" cy="914.3" r="6.7"/><circle cx="898.9" cy="916.5" r="6.7"/><circle cx="900.7" cy="920.7" r="6.7"/><circle cx="901.1" cy="908.2" r="6.7"/><circle cx="901.8" cy="893.7" r="6.7"/><circle cx="902.1" cy="884.3" r="6.7"/><circle cx="903.6" cy="884.5" r="6.7"/><circle cx="904.3" cy="873.7" r="6.7"/><circle cx="904.4" cy="871.1" r="6.7"/><circle cx="904.5" cy="887.8" r="6.7"/><circle cx="904.5" cy="865.2" r="6.7"/><circle cx="904.7" cy="865.2" r="6.7"/><circle cx="905.7" cy="871.4" r="6.7"/><circle cx="905.8" cy="899.2" r="6.7"/><circle cx="906.4" cy="915.1" r="6.7"/><circle cx="906.5" cy="903.8" r="6.7"/><circle cx="906.8" cy="894.2" r="6.7"/><circle cx="907.8" cy="883" r="6.7"/><circle cx="907.9" cy="912.2" r="6.7"/><circle cx="908.1" cy="910.1" r="6.7"/><circle cx="909.9" cy="881.9" r="6.7"/><circle cx="910" cy="888.8" r="6.7"/><circle cx="910.1" cy="898.9" r="6.7"/><circle cx="912.5" cy="909.8" r="6.7"/><circle cx="912.7" cy="887.2" r="6.7"/><circle cx="913.2" cy="919.3" r="6.7"/><circle cx="913.8" cy="919" r="6.7"/><circle cx="916.1" cy="885.5" r="6.7"/><circle cx="918.4" cy="882.4" r="6.7"/><circle cx="918.7" cy="866.8" r="6.7"/><circle cx="918.7" cy="864.2" r="6.7"/><circle cx="919.5" cy="888.6" r="6.7"/><circle cx="921.3" cy="916.1" r="6.7"/><circle cx="922.7" cy="916" r="6.7"/><circle cx="923.2" cy="896.3" r="6.7"/><circle cx="925.1" cy="878.3" r="6.7"/><circle cx="926.3" cy="868.4" r="6.7"/><circle cx="927" cy="889.5" r="6.7"/><circle cx="927.5" cy="874.2" r="6.7"/><circle cx="927.8" cy="896.7" r="6.7"/><circle cx="928.2" cy="882.9" r="6.7"/><circle cx="928.6" cy="889" r="6.7"/><circle cx="929.5" cy="872" r="6.7"/><circle cx="930.2" cy="913.1" r="6.7"/><circle cx="932.9" cy="912.1" r="6.7"/><circle cx="935.4" cy="888" r="6.7"/><circle cx="937.8" cy="859.6" r="6.7"/><circle cx="938.7" cy="886.7" r="6.7"/><circle cx="939.1" cy="896.5" r="6.7"/><circle cx="939.2" cy="854.9" r="6.7"/><circle cx="940" cy="874.1" r="6.7"/><circle cx="940.8" cy="909.2" r="6.7"/><circle cx="940.9" cy="890" r="6.7"/><circle cx="941" cy="869.9" r="6.7"/><circle cx="941.1" cy="888.9" r="6.7"/><circle cx="941.2" cy="909" r="6.7"/><circle cx="941.3" cy="875" r="6.7"/><circle cx="941.4" cy="866" r="6.7"/><circle cx="941.8" cy="868.5" r="6.7"/><circle cx="942" cy="876.4" r="6.7"/><circle cx="942" cy="904.1" r="6.7"/><circle cx="942.4" cy="889.5" r="6.7"/><circle cx="943.4" cy="837.5" r="6.7"/><circle cx="943.4" cy="876" r="6.7"/><circle cx="943.5" cy="885.2" r="6.7"/><circle cx="944.5" cy="892.2" r="6.7"/><circle cx="944.6" cy="885.1" r="6.7"/><circle cx="945" cy="874.1" r="6.7"/><circle cx="945.3" cy="886.8" r="6.7"/><circle cx="946.9" cy="860.2" r="6.7"/><circle cx="948.1" cy="834.1" r="6.7"/><circle cx="948.4" cy="856.4" r="6.7"/><circle cx="950.5" cy="841.9" r="6.7"/><circle cx="950.6" cy="905.5" r="6.7"/><circle cx="951" cy="875.9" r="6.7"/><circle cx="951.2" cy="905.3" r="6.7"/><circle cx="951.3" cy="846.3" r="6.7"/><circle cx="951.4" cy="836.7" r="6.7"/><circle cx="951.6" cy="874.4" r="6.7"/><circle cx="951.7" cy="831.9" r="6.7"/><circle cx="952.3" cy="846.6" r="6.7"/><circle cx="953.2" cy="831.2" r="6.7"/><circle cx="953.7" cy="869.6" r="6.7"/><circle cx="954.9" cy="830.4" r="6.7"/><circle cx="955.1" cy="857.1" r="6.7"/><circle cx="955.4" cy="830.1" r="6.7"/><circle cx="955.8" cy="871.2" r="6.7"/><circle cx="956.5" cy="895" r="6.7"/><circle cx="956.6" cy="876.4" r="6.7"/><circle cx="957.8" cy="844.8" r="6.7"/><circle cx="957.9" cy="873.4" r="6.7"/><circle cx="958.4" cy="892.5" r="6.7"/><circle cx="958.4" cy="891.1" r="6.7"/><circle cx="959.1" cy="902.9" r="6.7"/><circle cx="959.6" cy="902.9" r="6.7"/><circle cx="959.8" cy="883" r="6.7"/><circle cx="962" cy="862.4" r="6.7"/><circle cx="962.1" cy="849" r="6.7"/><circle cx="962.5" cy="861.8" r="6.7"/><circle cx="964.1" cy="858.2" r="6.7"/><circle cx="964.1" cy="850.1" r="6.7"/><circle cx="965.7" cy="869.8" r="6.7"/><circle cx="965.8" cy="901.1" r="6.7"/><circle cx="966.1" cy="854.1" r="6.7"/><circle cx="966.4" cy="849.5" r="6.7"/><circle cx="966.5" cy="851.8" r="6.7"/><circle cx="967.8" cy="834.7" r="6.7"/><circle cx="967.8" cy="883.9" r="6.7"/><circle cx="968" cy="863.1" r="6.7"/><circle cx="968.2" cy="877.8" r="6.7"/><circle cx="968.7" cy="824.6" r="6.7"/><circle cx="969.6" cy="868.7" r="6.7"/><circle cx="971.2" cy="859.4" r="6.7"/><circle cx="971.9" cy="823.5" r="6.7"/><circle cx="972.6" cy="875.3" r="6.7"/><circle cx="972.6" cy="887.8" r="6.7"/><circle cx="972.7" cy="871.9" r="6.7"/><circle cx="974.9" cy="874.2" r="6.7"/><circle cx="975" cy="838.2" r="6.7"/><circle cx="975.9" cy="881.7" r="6.7"/><circle cx="976" cy="857.8" r="6.7"/><circle cx="976.2" cy="871.4" r="6.7"/><circle cx="976.6" cy="877.1" r="6.7"/><circle cx="978.1" cy="874.8" r="6.7"/><circle cx="978.5" cy="842.8" r="6.7"/><circle cx="978.9" cy="862.4" r="6.7"/><circle cx="978.9" cy="862.9" r="6.7"/><circle cx="979.3" cy="889.9" r="6.7"/><circle cx="980.8" cy="844.4" r="6.7"/><circle cx="981.9" cy="879.7" r="6.7"/><circle cx="982.4" cy="874.1" r="6.7"/><circle cx="982.5" cy="862" r="6.7"/><circle cx="982.7" cy="896.1" r="6.7"/><circle cx="982.9" cy="888.4" r="6.7"/><circle cx="983.4" cy="848.7" r="6.7"/><circle cx="984.5" cy="862.7" r="6.7"/><circle cx="984.7" cy="837.7" r="6.7"/><circle cx="985.2" cy="821.5" r="6.7"/><circle cx="987.1" cy="835" r="6.7"/><circle cx="989" cy="837.5" r="6.7"/><circle cx="989.8" cy="894" r="6.7"/><circle cx="990.6" cy="883.8" r="6.7"/><circle cx="991.5" cy="813" r="6.7"/><circle cx="991.8" cy="837.5" r="6.7"/><circle cx="992.2" cy="831.3" r="6.7"/><circle cx="992.8" cy="844.8" r="6.7"/><circle cx="993.9" cy="855.7" r="6.7"/><circle cx="994.9" cy="853.9" r="6.7"/><circle cx="995.8" cy="863.6" r="6.7"/><circle cx="996" cy="832.9" r="6.7"/><circle cx="996.7" cy="886" r="6.7"/><circle cx="997.6" cy="854.4" r="6.7"/><circle cx="998" cy="885.1" r="6.7"/><circle cx="999.7" cy="854.5" r="6.7"/><circle cx="999.9" cy="864.6" r="6.7"/><circle cx="1000.5" cy="826.8" r="6.7"/><circle cx="1001.3" cy="875.1" r="6.7"/><circle cx="1006.4" cy="860.7" r="6.7"/><circle cx="1006.4" cy="840.6" r="6.7"/><circle cx="1007.4" cy="856.3" r="6.7"/><circle cx="1008.6" cy="861.3" r="6.7"/><circle cx="1009.6" cy="812" r="6.7"/><circle cx="1010.4" cy="821.8" r="6.7"/><circle cx="1010.8" cy="817.7" r="6.7"/><circle cx="1011.3" cy="861.5" r="6.7"/><circle cx="1012.6" cy="854.1" r="6.7"/><circle cx="1013.2" cy="832.1" r="6.7"/><circle cx="1013.7" cy="826.7" r="6.7"/><circle cx="1014.2" cy="841.4" r="6.7"/><circle cx="1015.1" cy="810.8" r="6.7"/><circle cx="1015.4" cy="831.1" r="6.7"/><circle cx="1015.5" cy="879.5" r="6.7"/><circle cx="1016.4" cy="819.9" r="6.7"/><circle cx="1016.5" cy="812.9" r="6.7"/><circle cx="1017.1" cy="813" r="6.7"/><circle cx="1017.9" cy="848.9" r="6.7"/><circle cx="1018.1" cy="828.9" r="6.7"/><circle cx="1018.6" cy="879" r="6.7"/><circle cx="1018.6" cy="848.4" r="6.7"/><circle cx="1018.6" cy="834.5" r="6.7"/><circle cx="1018.8" cy="818.2" r="6.7"/><circle cx="1019.9" cy="854.6" r="6.7"/><circle cx="1020.2" cy="870.4" r="6.7"/><circle cx="1020.3" cy="853.6" r="6.7"/><circle cx="1021" cy="874.9" r="6.7"/><circle cx="1021.2" cy="877.4" r="6.7"/><circle cx="1022.3" cy="858.6" r="6.7"/><circle cx="1022.8" cy="848.4" r="6.7"/><circle cx="1027.1" cy="832.7" r="6.7"/><circle cx="1027.2" cy="845.6" r="6.7"/><circle cx="1027.2" cy="836.5" r="6.7"/><circle cx="1027.8" cy="871.6" r="6.7"/><circle cx="1028.7" cy="863.6" r="6.7"/><circle cx="1028.7" cy="843.7" r="6.7"/><circle cx="1028.8" cy="835.3" r="6.7"/><circle cx="1029.1" cy="849.5" r="6.7"/><circle cx="1030" cy="864.5" r="6.7"/><circle cx="1030.6" cy="852.4" r="6.7"/><circle cx="1030.7" cy="864.3" r="6.7"/><circle cx="1032.9" cy="838.2" r="6.7"/><circle cx="1033.4" cy="845.6" r="6.7"/><circle cx="1034.1" cy="854.7" r="6.7"/><circle cx="1034.3" cy="848.3" r="6.7"/><circle cx="1034.4" cy="850.5" r="6.7"/><circle cx="1034.8" cy="862" r="6.7"/><circle cx="1035.4" cy="846.1" r="6.7"/><circle cx="1036.3" cy="860.1" r="6.7"/><circle cx="1036.7" cy="837.1" r="6.7"/><circle cx="1038.2" cy="849.2" r="6.7"/><circle cx="1039.3" cy="836.6" r="6.7"/><circle cx="1039.3" cy="834.9" r="6.7"/><circle cx="1039.6" cy="850.1" r="6.7"/><circle cx="1039.8" cy="863.8" r="6.7"/><circle cx="1040.3" cy="844.5" r="6.7"/><circle cx="1040.5" cy="844.1" r="6.7"/><circle cx="1041" cy="862.7" r="6.7"/><circle cx="1041.6" cy="834.2" r="6.7"/><circle cx="1041.7" cy="854.3" r="6.7"/><circle cx="1042.7" cy="827.5" r="6.7"/><circle cx="1043.2" cy="818.9" r="6.7"/><circle cx="1043.9" cy="840.9" r="6.7"/><circle cx="1044.2" cy="837.7" r="6.7"/><circle cx="1044.7" cy="833.9" r="6.7"/><circle cx="1044.9" cy="819.8" r="6.7"/><circle cx="1045.1" cy="839.8" r="6.7"/><circle cx="1046.3" cy="835.1" r="6.7"/><circle cx="1047" cy="825" r="6.7"/><circle cx="1048" cy="836.5" r="6.7"/><circle cx="1048" cy="825.3" r="6.7"/><circle cx="1049.2" cy="828.6" r="6.7"/><circle cx="1049.5" cy="828.7" r="6.7"/><circle cx="1050.1" cy="849.6" r="6.7"/><circle cx="1050.4" cy="840.9" r="6.7"/><circle cx="1051.2" cy="855.1" r="6.7"/><circle cx="1052" cy="833.6" r="6.7"/><circle cx="1052.4" cy="825" r="6.7"/><circle cx="1054" cy="855" r="6.7"/><circle cx="1054.6" cy="827.2" r="6.7"/><circle cx="1054.6" cy="849.9" r="6.7"/><circle cx="1054.8" cy="829.1" r="6.7"/><circle cx="1055" cy="844.6" r="6.7"/><circle cx="1057.3" cy="831.5" r="6.7"/><circle cx="1057.7" cy="852.5" r="6.7"/><circle cx="1057.7" cy="853" r="6.7"/><circle cx="1057.8" cy="853" r="6.7"/><circle cx="1058.5" cy="844.6" r="6.7"/><circle cx="1059.2" cy="835.2" r="6.7"/><circle cx="1059.9" cy="844.9" r="6.7"/><circle cx="1060.8" cy="851.3" r="6.7"/><circle cx="1061" cy="837.1" r="6.7"/><circle cx="1061.3" cy="825.8" r="6.7"/><circle cx="1062.4" cy="850.5" r="6.7"/><circle cx="1062.6" cy="837.5" r="6.7"/><circle cx="1062.7" cy="843.9" r="6.7"/><circle cx="1062.7" cy="840" r="6.7"/><circle cx="1069.4" cy="837.4" r="6.7"/><circle cx="1070.5" cy="832.4" r="6.7"/><circle cx="1070.7" cy="832.6" r="6.7"/><circle cx="1071" cy="820.6" r="6.7"/><circle cx="1072.2" cy="826.2" r="6.7"/><circle cx="1072.6" cy="825" r="6.7"/><circle cx="1073.6" cy="840.8" r="6.7"/><circle cx="1073.7" cy="832.2" r="6.7"/><circle cx="1074.7" cy="833.5" r="6.7"/><circle cx="1075.1" cy="820.3" r="6.7"/><circle cx="1075.2" cy="830.8" r="6.7"/><circle cx="1075.6" cy="843.3" r="6.7"/><circle cx="1075.6" cy="836.2" r="6.7"/><circle cx="1077.1" cy="839.3" r="6.7"/><circle cx="1077.4" cy="831.1" r="6.7"/><circle cx="1079.7" cy="826.8" r="6.7"/><circle cx="1080.4" cy="836.7" r="6.7"/><circle cx="1080.4" cy="829" r="6.7"/><circle cx="1080.5" cy="823.4" r="6.7"/><circle cx="1080.6" cy="828.7" r="6.7"/><circle cx="1081.5" cy="827.5" r="6.7"/><circle cx="1082.2" cy="835.8" r="6.7"/><circle cx="1082.4" cy="835.5" r="6.7"/><circle cx="1082.8" cy="822.1" r="6.7"/><circle cx="1082.9" cy="831.1" r="6.7"/><circle cx="1084" cy="821.8" r="6.7"/><circle cx="1084.9" cy="828" r="6.7"/><circle cx="1085.7" cy="830.7" r="6.7"/><circle cx="1086.9" cy="825.5" r="6.7"/><circle cx="1086.9" cy="824.6" r="6.7"/><circle cx="1087.4" cy="829.7" r="6.7"/><circle cx="1087.4" cy="826.2" r="6.7"/><circle cx="1087.6" cy="822" r="6.7"/><circle cx="976.3" cy="792.1" r="6.7"/><circle cx="991.9" cy="794" r="6.7"/><circle cx="998.9" cy="793.5" r="6.7"/><circle cx="1016.6" cy="797.3" r="6.7"/><circle cx="1023.5" cy="799.2" r="6.7"/><circle cx="1054.1" cy="800.4" r="6.7"/><circle cx="1063.2" cy="797.3" r="6.7"/><circle cx="1070.8" cy="796.4" r="6.7"/><circle cx="1075.6" cy="801.1" r="6.7"/><circle cx="1084.7" cy="794.5" r="6.7"/><circle cx="1093.3" cy="798.5" r="6.7"/><circle cx="1102.4" cy="792.1" r="6.7"/><circle cx="1115.3" cy="790.2" r="6.7"/><circle cx="1120.7" cy="779.4" r="6.7"/><circle cx="1125.5" cy="783.9" r="6.7"/><circle cx="1123.9" cy="795.7" r="6.7"/><circle cx="1109.4" cy="793.5" r="6.7"/><circle cx="1118.5" cy="782.7" r="6.7"/><circle cx="1126.6" cy="780.9" r="6.7"/><circle cx="525.6" cy="1127.5" r="6.7"/><circle cx="533.6" cy="1121.6" r="6.7"/><circle cx="520.2" cy="1116.9" r="6.7"/><circle cx="463.9" cy="1141.6" r="6.7"/><circle cx="466.5" cy="1135.7" r="6.7"/><circle cx="509.5" cy="1105.1" r="6.7"/><circle cx="547" cy="1102.8" r="6.7"/>
</g>
<g fill="#FF0000" stroke="#000" stroke-width="1.5">
<circle cx="442.1" cy="1111.1" r="6.7"/><circle cx="452.4" cy="1102.3" r="6.7"/><circle cx="457.6" cy="1110" r="6.7"/><circle cx="459.2" cy="1083.6" r="6.7"/><circle cx="465.1" cy="1085.4" r="6.7"/><circle cx="468.5" cy="1110.9" r="6.7"/><circle cx="473.8" cy="1075.4" r="6.7"/><circle cx="478.7" cy="1073.1" r="6.7"/><circle cx="478.9" cy="1085.4" r="6.7"/><circle cx="481" cy="1089.1" r="6.7"/><circle cx="490.7" cy="1090.9" r="6.7"/><circle cx="494" cy="1099.9" r="6.7"/><circle cx="494.5" cy="1095" r="6.7"/><circle cx="496.5" cy="1096.6" r="6.7"/><circle cx="500" cy="1081.3" r="6.7"/><circle cx="502.6" cy="1084.4" r="6.7"/><circle cx="504.7" cy="1075.4" r="6.7"/><circle cx="505.2" cy="1080.7" r="6.7"/><circle cx="505.3" cy="1090.2" r="6.7"/><circle cx="507.5" cy="1090.2" r="6.7"/><circle cx="510.6" cy="1058.9" r="6.7"/><circle cx="510.7" cy="1062.2" r="6.7"/><circle cx="511.2" cy="1102.2" r="6.7"/><circle cx="518.6" cy="1054.4" r="6.7"/><circle cx="527.9" cy="1068.5" r="6.7"/><circle cx="528.7" cy="1054.8" r="6.7"/><circle cx="533.9" cy="1062.7" r="6.7"/><circle cx="545.9" cy="1052.8" r="6.7"/><circle cx="557.7" cy="1057.3" r="6.7"/><circle cx="566.3" cy="1036.9" r="6.7"/><circle cx="569.5" cy="1067.1" r="6.7"/><circle cx="570.5" cy="1089.6" r="6.7"/><circle cx="578.5" cy="1018" r="6.7"/><circle cx="582.5" cy="1028.4" r="6.7"/><circle cx="592.6" cy="1015.7" r="6.7"/><circle cx="602.7" cy="1037.1" r="6.7"/><circle cx="603.1" cy="1062.9" r="6.7"/><circle cx="604.6" cy="1067.1" r="6.7"/><circle cx="608.2" cy="1065" r="6.7"/><circle cx="612.9" cy="1045.4" r="6.7"/><circle cx="631.7" cy="1022.8" r="6.7"/><circle cx="633.1" cy="1043.2" r="6.7"/><circle cx="640.4" cy="1020.1" r="6.7"/><circle cx="642.9" cy="1012.9" r="6.7"/><circle cx="647.8" cy="1021.2" r="6.7"/><circle cx="650.1" cy="1005.5" r="6.7"/><circle cx="650.3" cy="1015.9" r="6.7"/><circle cx="650.5" cy="1008.3" r="6.7"/><circle cx="658.4" cy="1016.8" r="6.7"/><circle cx="659" cy="1029.7" r="6.7"/><circle cx="659.5" cy="1013.2" r="6.7"/><circle cx="668.9" cy="1018.6" r="6.7"/><circle cx="671.7" cy="1025" r="6.7"/><circle cx="672" cy="1005.8" r="6.7"/><circle cx="672.4" cy="1010.1" r="6.7"/><circle cx="674.2" cy="1006.9" r="6.7"/><circle cx="686.3" cy="1026" r="6.7"/><circle cx="694.8" cy="1001.3" r="6.7"/><circle cx="696.9" cy="1003.2" r="6.7"/><circle cx="697.9" cy="986.9" r="6.7"/><circle cx="699.1" cy="988.4" r="6.7"/><circle cx="704.9" cy="1001.9" r="6.7"/><circle cx="713.9" cy="990.2" r="6.7"/><circle cx="730.1" cy="992.3" r="6.7"/><circle cx="732.8" cy="984.4" r="6.7"/><circle cx="737.1" cy="1009.1" r="6.7"/><circle cx="737.9" cy="982.7" r="6.7"/><circle cx="743.1" cy="989.8" r="6.7"/><circle cx="749.7" cy="964.5" r="6.7"/><circle cx="756.2" cy="961.7" r="6.7"/><circle cx="764.6" cy="943.3" r="6.7"/><circle cx="766.6" cy="996.5" r="6.7"/><circle cx="777.1" cy="939.2" r="6.7"/><circle cx="777.7" cy="958.5" r="6.7"/><circle cx="782" cy="953.2" r="6.7"/><circle cx="782.3" cy="969.1" r="6.7"/><circle cx="782.8" cy="954" r="6.7"/><circle cx="782.8" cy="984" r="6.7"/><circle cx="783.3" cy="979.6" r="6.7"/><circle cx="784.1" cy="970.4" r="6.7"/><circle cx="788.2" cy="966.6" r="6.7"/><circle cx="789.1" cy="973.3" r="6.7"/><circle cx="795.9" cy="963.8" r="6.7"/><circle cx="797.6" cy="977" r="6.7"/><circle cx="798.4" cy="970.3" r="6.7"/><circle cx="800" cy="956.3" r="6.7"/><circle cx="801.5" cy="959.2" r="6.7"/><circle cx="801.6" cy="956.9" r="6.7"/><circle cx="803.4" cy="968.3" r="6.7"/><circle cx="805" cy="951.1" r="6.7"/><circle cx="815.6" cy="946.6" r="6.7"/><circle cx="827.9" cy="922.6" r="6.7"/><circle cx="860.5" cy="925.3" r="6.7"/><circle cx="869.7" cy="919" r="6.7"/><circle cx="875.5" cy="904.3" r="6.7"/><circle cx="880.6" cy="928.6" r="6.7"/><circle cx="881.3" cy="912.8" r="6.7"/><circle cx="881.4" cy="895" r="6.7"/><circle cx="886.4" cy="917.2" r="6.7"/><circle cx="886.9" cy="905.5" r="6.7"/><circle cx="896.4" cy="870.5" r="6.7"/><circle cx="896.4" cy="896.7" r="6.7"/><circle cx="899.9" cy="897.3" r="6.7"/><circle cx="902.3" cy="897.6" r="6.7"/><circle cx="904.6" cy="893.1" r="6.7"/><circle cx="932.7" cy="867.9" r="6.7"/><circle cx="933.6" cy="879.3" r="6.7"/><circle cx="939.1" cy="851" r="6.7"/><circle cx="939.5" cy="868.8" r="6.7"/><circle cx="941.2" cy="887.7" r="6.7"/><circle cx="943.9" cy="892.5" r="6.7"/><circle cx="946.9" cy="868.6" r="6.7"/><circle cx="952.7" cy="900.7" r="6.7"/><circle cx="960.2" cy="878.5" r="6.7"/><circle cx="960.3" cy="862.2" r="6.7"/><circle cx="961.5" cy="868.5" r="6.7"/><circle cx="971.2" cy="851.8" r="6.7"/><circle cx="973.7" cy="874.7" r="6.7"/><circle cx="978.8" cy="846.5" r="6.7"/><circle cx="979" cy="845.1" r="6.7"/><circle cx="979.2" cy="837.1" r="6.7"/><circle cx="983.6" cy="839.6" r="6.7"/><circle cx="991.4" cy="846.6" r="6.7"/><circle cx="991.6" cy="886.6" r="6.7"/><circle cx="994.8" cy="864.7" r="6.7"/><circle cx="997.8" cy="876.3" r="6.7"/><circle cx="998.1" cy="858.4" r="6.7"/><circle cx="1000.6" cy="870.1" r="6.7"/><circle cx="1015.8" cy="834.6" r="6.7"/><circle cx="1024.5" cy="827.1" r="6.7"/><circle cx="1028.1" cy="865.6" r="6.7"/><circle cx="1045" cy="847.7" r="6.7"/><circle cx="1047.9" cy="829" r="6.7"/><circle cx="1052.1" cy="842.3" r="6.7"/><circle cx="1057.8" cy="837.1" r="6.7"/><circle cx="1068.7" cy="832.8" r="6.7"/><circle cx="1080.5" cy="834.1" r="6.7"/><circle cx="850.5" cy="905.1" r="6.7"/><circle cx="858.2" cy="918.7" r="6.7"/><circle cx="869" cy="901.5" r="6.7"/><circle cx="872.9" cy="912" r="6.7"/><circle cx="876.2" cy="900.5" r="6.7"/><circle cx="878.4" cy="891.6" r="6.7"/><circle cx="878.5" cy="906.2" r="6.7"/><circle cx="893" cy="915.8" r="6.7"/><circle cx="897" cy="895.6" r="6.7"/><circle cx="914.5" cy="892.2" r="6.7"/><circle cx="920" cy="898.8" r="6.7"/><circle cx="920.3" cy="897.4" r="6.7"/><circle cx="938.7" cy="857.9" r="6.7"/><circle cx="940.9" cy="862.5" r="6.7"/><circle cx="948.7" cy="875.4" r="6.7"/><circle cx="954.3" cy="870.7" r="6.7"/><circle cx="956.5" cy="901.1" r="6.7"/><circle cx="958" cy="885.4" r="6.7"/><circle cx="963.1" cy="853.2" r="6.7"/><circle cx="965.4" cy="875.4" r="6.7"/><circle cx="973" cy="885.8" r="6.7"/><circle cx="977.3" cy="878" r="6.7"/><circle cx="980.4" cy="872.9" r="6.7"/><circle cx="984.4" cy="833.2" r="6.7"/><circle cx="1008.6" cy="843.9" r="6.7"/><circle cx="1012" cy="858.3" r="6.7"/><circle cx="1022.7" cy="841.2" r="6.7"/><circle cx="1040.1" cy="837.6" r="6.7"/><circle cx="1068.4" cy="837.1" r="6.7"/><circle cx="1077.2" cy="828.7" r="6.7"/><circle cx="445.1" cy="1078.1" r="6.7"/><circle cx="457.4" cy="1139.2" r="6.7"/><circle cx="460.1" cy="1129.8" r="6.7"/><circle cx="855.6" cy="900.7" r="6.7"/>
</g>
<g fill="#A5A5A5" stroke="#000" stroke-width="1.5">
<circle cx="434" cy="1099" r="6.7"/><circle cx="434.7" cy="1114.5" r="6.7"/><circle cx="449.5" cy="1144.9" r="6.7"/><circle cx="459.9" cy="1122.3" r="6.7"/><circle cx="463.7" cy="1131.3" r="6.7"/><circle cx="474.1" cy="1108.2" r="6.7"/><circle cx="476.5" cy="1083.9" r="6.7"/><circle cx="489.9" cy="1090.8" r="6.7"/><circle cx="491.7" cy="1111" r="6.7"/><circle cx="493.7" cy="1096.1" r="6.7"/><circle cx="494" cy="1087.9" r="6.7"/><circle cx="497.9" cy="1085.6" r="6.7"/><circle cx="519.8" cy="1061.7" r="6.7"/><circle cx="519.8" cy="1069.4" r="6.7"/><circle cx="520.2" cy="1076.8" r="6.7"/><circle cx="531" cy="1084.1" r="6.7"/><circle cx="534.8" cy="1082.5" r="6.7"/><circle cx="535.4" cy="1056.6" r="6.7"/><circle cx="536.9" cy="1039.1" r="6.7"/><circle cx="551.6" cy="1049.6" r="6.7"/><circle cx="553.1" cy="1046.9" r="6.7"/><circle cx="555.4" cy="1069.3" r="6.7"/><circle cx="558.5" cy="1045.1" r="6.7"/><circle cx="560.2" cy="1064.1" r="6.7"/><circle cx="561.9" cy="1051.8" r="6.7"/><circle cx="569.2" cy="1070.3" r="6.7"/><circle cx="570.8" cy="1057.7" r="6.7"/><circle cx="573.3" cy="1023.6" r="6.7"/><circle cx="578.8" cy="1012.9" r="6.7"/><circle cx="588.6" cy="1042.9" r="6.7"/><circle cx="589.1" cy="1029.9" r="6.7"/><circle cx="597.8" cy="1054.6" r="6.7"/><circle cx="601.8" cy="1042.9" r="6.7"/><circle cx="602.9" cy="1068.4" r="6.7"/><circle cx="609.3" cy="1043" r="6.7"/><circle cx="613.6" cy="1026.3" r="6.7"/><circle cx="625.5" cy="1002" r="6.7"/><circle cx="629.2" cy="1030.7" r="6.7"/><circle cx="630.5" cy="1026.6" r="6.7"/><circle cx="639.5" cy="1021.1" r="6.7"/><circle cx="645.1" cy="1053.2" r="6.7"/><circle cx="645.1" cy="1039.6" r="6.7"/><circle cx="653.3" cy="1012" r="6.7"/><circle cx="662.2" cy="1022.4" r="6.7"/><circle cx="666.1" cy="998.4" r="6.7"/><circle cx="682.8" cy="997.8" r="6.7"/><circle cx="687.8" cy="1012.6" r="6.7"/><circle cx="692.4" cy="991.7" r="6.7"/><circle cx="701.2" cy="997.5" r="6.7"/><circle cx="708" cy="996" r="6.7"/><circle cx="710.1" cy="996.5" r="6.7"/><circle cx="710.3" cy="984.5" r="6.7"/><circle cx="710.4" cy="977.4" r="6.7"/><circle cx="713" cy="989.3" r="6.7"/><circle cx="734.7" cy="987.2" r="6.7"/><circle cx="737.1" cy="967.7" r="6.7"/><circle cx="743.5" cy="983.2" r="6.7"/><circle cx="743.8" cy="990.8" r="6.7"/><circle cx="744.7" cy="981.8" r="6.7"/><circle cx="744.9" cy="989.1" r="6.7"/><circle cx="746.2" cy="989.4" r="6.7"/><circle cx="752.1" cy="989.9" r="6.7"/><circle cx="756.5" cy="976.4" r="6.7"/><circle cx="758.2" cy="973.7" r="6.7"/><circle cx="758.5" cy="973.9" r="6.7"/><circle cx="760.6" cy="984.5" r="6.7"/><circle cx="763.3" cy="963.2" r="6.7"/><circle cx="770.9" cy="982.2" r="6.7"/><circle cx="779.3" cy="952.4" r="6.7"/><circle cx="785" cy="981.4" r="6.7"/><circle cx="786.7" cy="970.5" r="6.7"/><circle cx="798.5" cy="982.7" r="6.7"/><circle cx="805.7" cy="960" r="6.7"/><circle cx="818.5" cy="952.7" r="6.7"/><circle cx="821.4" cy="924.3" r="6.7"/><circle cx="830.1" cy="929.5" r="6.7"/><circle cx="843.2" cy="929.6" r="6.7"/><circle cx="844.3" cy="933" r="6.7"/><circle cx="845.3" cy="936.1" r="6.7"/><circle cx="853.6" cy="926.2" r="6.7"/><circle cx="858.5" cy="920.1" r="6.7"/><circle cx="860.1" cy="930.1" r="6.7"/><circle cx="862.2" cy="902.7" r="6.7"/><circle cx="865.3" cy="908" r="6.7"/><circle cx="871.5" cy="919.2" r="6.7"/><circle cx="877.3" cy="910" r="6.7"/><circle cx="879.1" cy="922.5" r="6.7"/><circle cx="880.1" cy="903" r="6.7"/><circle cx="880.4" cy="902.5" r="6.7"/><circle cx="883.1" cy="912.6" r="6.7"/><circle cx="884.4" cy="927.4" r="6.7"/><circle cx="885.3" cy="894.5" r="6.7"/><circle cx="893.1" cy="878.9" r="6.7"/><circle cx="895" cy="881.4" r="6.7"/><circle cx="908.6" cy="873.3" r="6.7"/><circle cx="909.2" cy="891.3" r="6.7"/><circle cx="910.4" cy="902.7" r="6.7"/><circle cx="912.6" cy="892.2" r="6.7"/><circle cx="928.5" cy="885.2" r="6.7"/><circle cx="936.1" cy="887" r="6.7"/><circle cx="938.5" cy="883.4" r="6.7"/><circle cx="944.8" cy="878.5" r="6.7"/><circle cx="951.8" cy="873.9" r="6.7"/><circle cx="957.2" cy="885.5" r="6.7"/><circle cx="974.7" cy="846.2" r="6.7"/><circle cx="977.2" cy="848.7" r="6.7"/><circle cx="977.7" cy="861.4" r="6.7"/><circle cx="979.9" cy="896.9" r="6.7"/><circle cx="982.3" cy="852.4" r="6.7"/><circle cx="984.4" cy="868.4" r="6.7"/><circle cx="998" cy="841.5" r="6.7"/><circle cx="1003" cy="845.3" r="6.7"/><circle cx="1005.2" cy="835.9" r="6.7"/><circle cx="1005.6" cy="876.7" r="6.7"/><circle cx="1008.7" cy="859.7" r="6.7"/><circle cx="1010.8" cy="842.5" r="6.7"/><circle cx="1016.9" cy="859.3" r="6.7"/><circle cx="1026.5" cy="837.1" r="6.7"/><circle cx="1027.7" cy="845.5" r="6.7"/><circle cx="1030.8" cy="827.1" r="6.7"/><circle cx="1032.6" cy="835.9" r="6.7"/><circle cx="1038.6" cy="844" r="6.7"/><circle cx="1039.8" cy="845.2" r="6.7"/><circle cx="1046.6" cy="834.3" r="6.7"/><circle cx="1046.9" cy="833.1" r="6.7"/><circle cx="1049.5" cy="826" r="6.7"/><circle cx="1051.2" cy="822.1" r="6.7"/><circle cx="1051.3" cy="834.4" r="6.7"/><circle cx="1052.2" cy="846.1" r="6.7"/><circle cx="1066.1" cy="838.8" r="6.7"/><circle cx="860.8" cy="905.8" r="6.7"/><circle cx="862.4" cy="911.4" r="6.7"/><circle cx="871.5" cy="914.6" r="6.7"/><circle cx="872.2" cy="917.2" r="6.7"/><circle cx="879.8" cy="896.7" r="6.7"/><circle cx="890.2" cy="892.4" r="6.7"/><circle cx="890.5" cy="897.6" r="6.7"/><circle cx="898.6" cy="914.5" r="6.7"/><circle cx="899.4" cy="904.7" r="6.7"/><circle cx="924.9" cy="892" r="6.7"/><circle cx="932.5" cy="901.1" r="6.7"/><circle cx="948.2" cy="885.2" r="6.7"/><circle cx="972.9" cy="857.5" r="6.7"/><circle cx="975.7" cy="889.9" r="6.7"/><circle cx="986.6" cy="861.8" r="6.7"/><circle cx="995.5" cy="876.9" r="6.7"/><circle cx="1020.9" cy="856.7" r="6.7"/><circle cx="1024.2" cy="857" r="6.7"/><circle cx="1032.2" cy="862.3" r="6.7"/><circle cx="1044.6" cy="840.6" r="6.7"/><circle cx="1046.2" cy="829.1" r="6.7"/><circle cx="1048.8" cy="841.5" r="6.7"/><circle cx="1049.7" cy="840.7" r="6.7"/><circle cx="1053.5" cy="837.9" r="6.7"/><circle cx="1068" cy="834.9" r="6.7"/><circle cx="418.3" cy="1145.1" r="6.7"/><circle cx="1129.2" cy="786" r="6.7"/><circle cx="1005.8" cy="795.7" r="6.7"/><circle cx="1011.2" cy="807.4" r="6.7"/><circle cx="1024.6" cy="803.9" r="6.7"/><circle cx="1032.7" cy="804.6" r="6.7"/>
</g>
<line x1="360.8" y1="1157.8" x2="1265" y2="728.7" stroke="#1EA8E4" stroke-width="3.2" stroke-linecap="round"/>
<line x1="382.8" y1="1145.6" x2="1200.1" y2="762" stroke="#FF0000" stroke-width="2.5" stroke-linecap="round"/>
<line x1="363.5" y1="1158.5" x2="1263.9" y2="727.7" stroke="#A5A5A5" stroke-width="3.4" stroke-linecap="round"/>
<text x="293.2" y="1175.3" font-size="20.2" font-weight="bold" text-anchor="end" textLength="36.6" lengthAdjust="spacingAndGlyphs">640</text>
<text x="316.3" y="1209.2" font-size="21.4" font-weight="bold" text-anchor="middle" textLength="39.3" lengthAdjust="spacingAndGlyphs">640</text>
<text x="293.2" y="1128.3" font-size="20.2" font-weight="bold" text-anchor="end" textLength="36.6" lengthAdjust="spacingAndGlyphs">660</text>
<text x="423.6" y="1209.2" font-size="21.4" font-weight="bold" text-anchor="middle" textLength="39.3" lengthAdjust="spacingAndGlyphs">660</text>
<text x="293.2" y="1081.3" font-size="20.2" font-weight="bold" text-anchor="end" textLength="36.6" lengthAdjust="spacingAndGlyphs">680</text>
<text x="530.9" y="1209.2" font-size="21.4" font-weight="bold" text-anchor="middle" textLength="39.3" lengthAdjust="spacingAndGlyphs">680</text>
<text x="293.2" y="1034.3" font-size="20.2" font-weight="bold" text-anchor="end" textLength="36.6" lengthAdjust="spacingAndGlyphs">700</text>
<text x="638.3" y="1209.2" font-size="21.4" font-weight="bold" text-anchor="middle" textLength="39.3" lengthAdjust="spacingAndGlyphs">700</text>
<text x="293.2" y="987.3" font-size="20.2" font-weight="bold" text-anchor="end" textLength="36.6" lengthAdjust="spacingAndGlyphs">720</text>
<text x="745.6" y="1209.2" font-size="21.4" font-weight="bold" text-anchor="middle" textLength="39.3" lengthAdjust="spacingAndGlyphs">720</text>
<text x="293.2" y="940.3" font-size="20.2" font-weight="bold" text-anchor="end" textLength="36.6" lengthAdjust="spacingAndGlyphs">740</text>
<text x="852.9" y="1209.2" font-size="21.4" font-weight="bold" text-anchor="middle" textLength="39.3" lengthAdjust="spacingAndGlyphs">740</text>
<text x="293.2" y="893.3" font-size="20.2" font-weight="bold" text-anchor="end" textLength="36.6" lengthAdjust="spacingAndGlyphs">760</text>
<text x="960.2" y="1209.2" font-size="21.4" font-weight="bold" text-anchor="middle" textLength="39.3" lengthAdjust="spacingAndGlyphs">760</text>
<text x="293.2" y="846.3" font-size="20.2" font-weight="bold" text-anchor="end" textLength="36.6" lengthAdjust="spacingAndGlyphs">780</text>
<text x="1067.5" y="1209.2" font-size="21.4" font-weight="bold" text-anchor="middle" textLength="39.3" lengthAdjust="spacingAndGlyphs">780</text>
<text x="293.2" y="799.3" font-size="20.2" font-weight="bold" text-anchor="end" textLength="36.6" lengthAdjust="spacingAndGlyphs">800</text>
<text x="1174.9" y="1209.2" font-size="21.4" font-weight="bold" text-anchor="middle" textLength="39.3" lengthAdjust="spacingAndGlyphs">800</text>
<text x="293.2" y="752.3" font-size="20.2" font-weight="bold" text-anchor="end" textLength="36.6" lengthAdjust="spacingAndGlyphs">820</text>
<text x="1282.2" y="1209.2" font-size="21.4" font-weight="bold" text-anchor="middle" textLength="39.3" lengthAdjust="spacingAndGlyphs">820</text>
<text x="293.2" y="705.3" font-size="20.2" font-weight="bold" text-anchor="end" textLength="36.6" lengthAdjust="spacingAndGlyphs">840</text>
<text x="1389.5" y="1209.2" font-size="21.4" font-weight="bold" text-anchor="middle" textLength="39.3" lengthAdjust="spacingAndGlyphs">840</text>
<text x="852.6" y="1248.2" font-size="21.6" font-weight="bold" text-anchor="middle" textLength="171.8" lengthAdjust="spacingAndGlyphs">Predicted value</text>
<g transform="translate(241.8 933.6) rotate(-90)">
<text x="0" y="0" font-size="24.4" font-weight="bold" text-anchor="middle" textLength="109" lengthAdjust="spacingAndGlyphs">Real value</text>
</g>
<text x="938.3" y="739.4" font-size="20.4" textLength="118.2" lengthAdjust="spacingAndGlyphs">Training: y =</text>
<text x="1136.7" y="739.4" font-size="20.4" textLength="23" lengthAdjust="spacingAndGlyphs">x -</text>
<text x="853.4" y="770.6" font-size="20.4" textLength="138.6" lengthAdjust="spacingAndGlyphs">Validation: y =</text>
<text x="1071.9" y="770.6" font-size="20.4" textLength="23" lengthAdjust="spacingAndGlyphs">x -</text>
<text x="994.9" y="829.7" font-size="20.4" textLength="111.7" lengthAdjust="spacingAndGlyphs">Testing: y =</text>
<text x="1187.2" y="829.7" font-size="20.4" textLength="23" lengthAdjust="spacingAndGlyphs">x -</text>
<rect x="235.1" y="1265.2" width="1176.3" height="109" fill="#fff" stroke="#000" stroke-width="2.5"/>
<circle cx="293.6" cy="1292.7" r="6.8" fill="#00B0F0" stroke="#000" stroke-width="1.5"/>
<text x="325.9" y="1299.6" font-size="21.6" font-weight="bold" textLength="161.5" lengthAdjust="spacingAndGlyphs">Training phase</text>
<line x1="266.5" y1="1346.8" x2="321.1" y2="1346.8" stroke="#1EA8E4" stroke-width="3.4" stroke-linecap="round"/>
<text x="325.9" y="1353.5" font-size="21.6" font-weight="bold" textLength="254" lengthAdjust="spacingAndGlyphs">Linear (Training phase)</text>
<circle cx="685.9" cy="1292.7" r="6.8" fill="#FF0000" stroke="#000" stroke-width="1.5"/>
<text x="717.9" y="1299.6" font-size="21.6" font-weight="bold" textLength="185.4" lengthAdjust="spacingAndGlyphs">Validation phase</text>
<line x1="658.5" y1="1346.8" x2="713.1" y2="1346.8" stroke="#FF0000" stroke-width="3.4" stroke-linecap="round"/>
<text x="717.9" y="1353.5" font-size="21.6" font-weight="bold" textLength="276.9" lengthAdjust="spacingAndGlyphs">Linear (Validation phase)</text>
<circle cx="1078.2" cy="1292.7" r="6.8" fill="#A5A5A5" stroke="#000" stroke-width="1.5"/>
<text x="1109.3" y="1299.6" font-size="21.6" font-weight="bold" textLength="152" lengthAdjust="spacingAndGlyphs">Testing phase</text>
<line x1="1049.9" y1="1346.8" x2="1104.5" y2="1346.8" stroke="#A5A5A5" stroke-width="3.4" stroke-linecap="round"/>
<text x="1109.3" y="1353.5" font-size="21.6" font-weight="bold" textLength="243" lengthAdjust="spacingAndGlyphs">Linear (Testing phase)</text>
<rect x="184.4" y="1392.1" width="1251.6" height="637.1" fill="#fff" stroke="#000" stroke-width="4.7"/>
<g stroke="#D9D9D9" stroke-width="1.8">
<line x1="425.1" y1="1419.7" x2="425.1" y2="1812.8"/>
<line x1="532" y1="1419.7" x2="532" y2="1812.8"/>
<line x1="638.9" y1="1419.7" x2="638.9" y2="1812.8"/>
<line x1="745.8" y1="1419.7" x2="745.8" y2="1812.8"/>
<line x1="852.7" y1="1419.7" x2="852.7" y2="1812.8"/>
<line x1="959.6" y1="1419.7" x2="959.6" y2="1812.8"/>
<line x1="1066.5" y1="1419.7" x2="1066.5" y2="1812.8"/>
<line x1="1173.4" y1="1419.7" x2="1173.4" y2="1812.8"/>
<line x1="1280.3" y1="1419.7" x2="1280.3" y2="1812.8"/>
<line x1="318.2" y1="1459" x2="1387.2" y2="1459"/>
<line x1="318.2" y1="1498.3" x2="1387.2" y2="1498.3"/>
<line x1="318.2" y1="1537.6" x2="1387.2" y2="1537.6"/>
<line x1="318.2" y1="1576.9" x2="1387.2" y2="1576.9"/>
<line x1="318.2" y1="1616.2" x2="1387.2" y2="1616.2"/>
<line x1="318.2" y1="1655.6" x2="1387.2" y2="1655.6"/>
<line x1="318.2" y1="1694.9" x2="1387.2" y2="1694.9"/>
<line x1="318.2" y1="1734.2" x2="1387.2" y2="1734.2"/>
<line x1="318.2" y1="1773.5" x2="1387.2" y2="1773.5"/>
</g>
<rect x="318.2" y="1419.7" width="1069" height="393.1" fill="none" stroke="#000" stroke-width="4.6"/>
<path d="M318.2 1421.7V1812.8H1385.2" fill="none" stroke="#bdbdbd" stroke-width="1.5"/>
<g fill="#00B0F0" stroke="#000" stroke-width="1.5">
<circle cx="389.1" cy="1788" r="6.6"/><circle cx="390.7" cy="1785.9" r="6.6"/><circle cx="391.1" cy="1783.2" r="6.6"/><circle cx="393" cy="1783.6" r="6.6"/><circle cx="393" cy="1787.8" r="6.6"/><circle cx="394.5" cy="1787.2" r="6.6"/><circle cx="399.3" cy="1781.4" r="6.6"/><circle cx="403.7" cy="1780.9" r="6.6"/><circle cx="406.4" cy="1782.2" r="6.6"/><circle cx="416.2" cy="1775.4" r="6.6"/><circle cx="421.1" cy="1772.2" r="6.6"/><circle cx="423" cy="1772.7" r="6.6"/><circle cx="426.5" cy="1772.7" r="6.6"/><circle cx="426.5" cy="1770.3" r="6.6"/><circle cx="428" cy="1773.2" r="6.6"/><circle cx="431.1" cy="1772.4" r="6.6"/><circle cx="433.5" cy="1772.2" r="6.6"/><circle cx="440.3" cy="1764.1" r="6.6"/><circle cx="441.3" cy="1763.3" r="6.6"/><circle cx="443.2" cy="1766.9" r="6.6"/><circle cx="443.7" cy="1765.4" r="6.6"/><circle cx="443.7" cy="1765.7" r="6.6"/><circle cx="450.3" cy="1762.3" r="6.6"/><circle cx="451.4" cy="1761.4" r="6.6"/><circle cx="451.6" cy="1762.3" r="6.6"/><circle cx="454.1" cy="1763" r="6.6"/><circle cx="460.7" cy="1761.4" r="6.6"/><circle cx="462.2" cy="1761.8" r="6.6"/><circle cx="463" cy="1764.7" r="6.6"/><circle cx="471.5" cy="1756.6" r="6.6"/><circle cx="472.2" cy="1757.8" r="6.6"/><circle cx="473.9" cy="1755.4" r="6.6"/><circle cx="475.8" cy="1755" r="6.6"/><circle cx="485.1" cy="1753.4" r="6.6"/><circle cx="485.3" cy="1752.3" r="6.6"/><circle cx="486.9" cy="1749.9" r="6.6"/><circle cx="492.3" cy="1748.4" r="6.6"/><circle cx="496.2" cy="1749.1" r="6.6"/><circle cx="497" cy="1748.5" r="6.6"/><circle cx="497" cy="1745.9" r="6.6"/><circle cx="498" cy="1746.2" r="6.6"/><circle cx="498.9" cy="1745.7" r="6.6"/><circle cx="501.6" cy="1745.7" r="6.6"/><circle cx="505" cy="1742.6" r="6.6"/><circle cx="510.6" cy="1741.8" r="6.6"/><circle cx="511.2" cy="1736.8" r="6.6"/><circle cx="511.3" cy="1742.7" r="6.6"/><circle cx="514.2" cy="1742.1" r="6.6"/><circle cx="517.4" cy="1736.3" r="6.6"/><circle cx="518.7" cy="1739.2" r="6.6"/><circle cx="527.5" cy="1737.3" r="6.6"/><circle cx="530.5" cy="1733.8" r="6.6"/><circle cx="532.7" cy="1738.5" r="6.6"/><circle cx="533.8" cy="1732.6" r="6.6"/><circle cx="534.4" cy="1733.2" r="6.6"/><circle cx="539.4" cy="1730.9" r="6.6"/><circle cx="539.8" cy="1732.9" r="6.6"/><circle cx="541.7" cy="1728" r="6.6"/><circle cx="545.8" cy="1728.5" r="6.6"/><circle cx="550.7" cy="1727.3" r="6.6"/><circle cx="557.3" cy="1724.1" r="6.6"/><circle cx="562.3" cy="1724.7" r="6.6"/><circle cx="564.1" cy="1722.6" r="6.6"/><circle cx="564.6" cy="1725.1" r="6.6"/><circle cx="565.3" cy="1724.1" r="6.6"/><circle cx="577.8" cy="1716.7" r="6.6"/><circle cx="579.1" cy="1716.6" r="6.6"/><circle cx="580" cy="1715" r="6.6"/><circle cx="582.9" cy="1716.8" r="6.6"/><circle cx="584.9" cy="1714.9" r="6.6"/><circle cx="585.2" cy="1715.9" r="6.6"/><circle cx="585.7" cy="1713.9" r="6.6"/><circle cx="590.8" cy="1711" r="6.6"/><circle cx="590.9" cy="1710.4" r="6.6"/><circle cx="592.1" cy="1710.9" r="6.6"/><circle cx="593.2" cy="1713.2" r="6.6"/><circle cx="593.7" cy="1711.1" r="6.6"/><circle cx="600.2" cy="1711.1" r="6.6"/><circle cx="600.6" cy="1712.7" r="6.6"/><circle cx="602.7" cy="1707.9" r="6.6"/><circle cx="606.1" cy="1706.8" r="6.6"/><circle cx="606.1" cy="1705.5" r="6.6"/><circle cx="611.9" cy="1703.2" r="6.6"/><circle cx="622.1" cy="1703.5" r="6.6"/><circle cx="622.4" cy="1702.7" r="6.6"/><circle cx="627.5" cy="1699.1" r="6.6"/><circle cx="629.7" cy="1698.1" r="6.6"/><circle cx="633.7" cy="1696" r="6.6"/><circle cx="635.1" cy="1698.9" r="6.6"/><circle cx="635.5" cy="1696.6" r="6.6"/><circle cx="637.7" cy="1694.1" r="6.6"/><circle cx="640" cy="1690.8" r="6.6"/><circle cx="648.7" cy="1693.7" r="6.6"/><circle cx="656.4" cy="1685.3" r="6.6"/><circle cx="656.4" cy="1689" r="6.6"/><circle cx="660.5" cy="1689.8" r="6.6"/><circle cx="660.9" cy="1684.2" r="6.6"/><circle cx="664.8" cy="1687.5" r="6.6"/><circle cx="664.9" cy="1687.6" r="6.6"/><circle cx="667.4" cy="1683" r="6.6"/><circle cx="669.8" cy="1681.5" r="6.6"/><circle cx="671.8" cy="1682.7" r="6.6"/><circle cx="683.9" cy="1679.8" r="6.6"/><circle cx="686.5" cy="1680.3" r="6.6"/><circle cx="688.1" cy="1676.6" r="6.6"/><circle cx="698" cy="1677.8" r="6.6"/><circle cx="700" cy="1675.3" r="6.6"/><circle cx="702.3" cy="1669.5" r="6.6"/><circle cx="704.1" cy="1669.7" r="6.6"/><circle cx="707.2" cy="1667.4" r="6.6"/><circle cx="708.9" cy="1668.4" r="6.6"/><circle cx="710.1" cy="1671" r="6.6"/><circle cx="712.8" cy="1666.8" r="6.6"/><circle cx="713.3" cy="1671.1" r="6.6"/><circle cx="718.4" cy="1664.4" r="6.6"/><circle cx="721.7" cy="1661.8" r="6.6"/><circle cx="722" cy="1666.4" r="6.6"/><circle cx="722.4" cy="1662.2" r="6.6"/><circle cx="723.5" cy="1663.8" r="6.6"/><circle cx="724.6" cy="1663.8" r="6.6"/><circle cx="726.9" cy="1666.5" r="6.6"/><circle cx="732.8" cy="1660.7" r="6.6"/><circle cx="733.5" cy="1658.4" r="6.6"/><circle cx="735.4" cy="1662.8" r="6.6"/><circle cx="735.5" cy="1660.4" r="6.6"/><circle cx="736.4" cy="1660.5" r="6.6"/><circle cx="740.6" cy="1660.8" r="6.6"/><circle cx="744.4" cy="1654.1" r="6.6"/><circle cx="744.5" cy="1656.1" r="6.6"/><circle cx="747.5" cy="1654.9" r="6.6"/><circle cx="748.8" cy="1652.6" r="6.6"/><circle cx="752.1" cy="1654.8" r="6.6"/><circle cx="752.4" cy="1646.8" r="6.6"/><circle cx="759.4" cy="1651.6" r="6.6"/><circle cx="766.2" cy="1650.4" r="6.6"/><circle cx="767.3" cy="1646.5" r="6.6"/><circle cx="768.3" cy="1646.6" r="6.6"/><circle cx="775.6" cy="1646.6" r="6.6"/><circle cx="776.9" cy="1646" r="6.6"/><circle cx="783.5" cy="1640.1" r="6.6"/><circle cx="785.4" cy="1640.5" r="6.6"/><circle cx="785.5" cy="1640.2" r="6.6"/><circle cx="791.6" cy="1637.1" r="6.6"/><circle cx="794.7" cy="1638.8" r="6.6"/><circle cx="801.6" cy="1632.6" r="6.6"/><circle cx="802.5" cy="1634.7" r="6.6"/><circle cx="802.6" cy="1633.3" r="6.6"/><circle cx="803.5" cy="1636.2" r="6.6"/><circle cx="804.1" cy="1632.6" r="6.6"/><circle cx="805.8" cy="1633" r="6.6"/><circle cx="811.5" cy="1626.5" r="6.6"/><circle cx="814.7" cy="1630.5" r="6.6"/><circle cx="815.2" cy="1627" r="6.6"/><circle cx="815.3" cy="1628.7" r="6.6"/><circle cx="825.4" cy="1623.2" r="6.6"/><circle cx="836.7" cy="1621.7" r="6.6"/><circle cx="837.5" cy="1620.9" r="6.6"/><circle cx="837.5" cy="1626.2" r="6.6"/><circle cx="841.4" cy="1622.9" r="6.6"/><circle cx="844.6" cy="1617.2" r="6.6"/><circle cx="844.8" cy="1618.3" r="6.6"/><circle cx="845.8" cy="1617.2" r="6.6"/><circle cx="847.5" cy="1618.6" r="6.6"/><circle cx="849.7" cy="1615.8" r="6.6"/><circle cx="851.2" cy="1617.5" r="6.6"/><circle cx="855.1" cy="1615.4" r="6.6"/><circle cx="858.4" cy="1611.7" r="6.6"/><circle cx="859.1" cy="1611.7" r="6.6"/><circle cx="867.9" cy="1611.5" r="6.6"/><circle cx="868.8" cy="1610.2" r="6.6"/><circle cx="870.3" cy="1609.3" r="6.6"/><circle cx="870.3" cy="1610" r="6.6"/><circle cx="872.3" cy="1609.2" r="6.6"/><circle cx="872.4" cy="1610.8" r="6.6"/><circle cx="874.6" cy="1607" r="6.6"/><circle cx="878.9" cy="1608.6" r="6.6"/><circle cx="879.3" cy="1608.3" r="6.6"/><circle cx="880.6" cy="1603.5" r="6.6"/><circle cx="886.9" cy="1600" r="6.6"/><circle cx="888.2" cy="1599.6" r="6.6"/><circle cx="888.2" cy="1602.5" r="6.6"/><circle cx="888.9" cy="1604" r="6.6"/><circle cx="891.5" cy="1600.5" r="6.6"/><circle cx="891.8" cy="1598.8" r="6.6"/><circle cx="896.8" cy="1599.8" r="6.6"/><circle cx="902" cy="1598.9" r="6.6"/><circle cx="902.7" cy="1601.1" r="6.6"/><circle cx="904.8" cy="1600.4" r="6.6"/><circle cx="906.1" cy="1593.2" r="6.6"/><circle cx="910.2" cy="1597.9" r="6.6"/><circle cx="913.8" cy="1595.1" r="6.6"/><circle cx="917.3" cy="1593.1" r="6.6"/><circle cx="919.1" cy="1591.3" r="6.6"/><circle cx="919.4" cy="1594.2" r="6.6"/><circle cx="921.7" cy="1589.7" r="6.6"/><circle cx="922" cy="1589.6" r="6.6"/><circle cx="923.4" cy="1590.1" r="6.6"/><circle cx="923.9" cy="1591.3" r="6.6"/><circle cx="925.9" cy="1590.1" r="6.6"/><circle cx="926.2" cy="1593" r="6.6"/><circle cx="926.5" cy="1587.9" r="6.6"/><circle cx="926.9" cy="1590" r="6.6"/><circle cx="929" cy="1590.9" r="6.6"/><circle cx="930.6" cy="1587.7" r="6.6"/><circle cx="931.8" cy="1586.2" r="6.6"/><circle cx="932.5" cy="1586.2" r="6.6"/><circle cx="936.4" cy="1584.3" r="6.6"/><circle cx="939.8" cy="1581.9" r="6.6"/><circle cx="942.9" cy="1584.1" r="6.6"/><circle cx="948.9" cy="1580.5" r="6.6"/><circle cx="951.7" cy="1579.4" r="6.6"/><circle cx="951.8" cy="1582.7" r="6.6"/><circle cx="953.1" cy="1577.2" r="6.6"/><circle cx="953.3" cy="1579.9" r="6.6"/><circle cx="955.3" cy="1578.1" r="6.6"/><circle cx="961.1" cy="1575.9" r="6.6"/><circle cx="968.5" cy="1575.3" r="6.6"/><circle cx="969.1" cy="1571.9" r="6.6"/><circle cx="973.7" cy="1569.9" r="6.6"/><circle cx="982.3" cy="1568.3" r="6.6"/><circle cx="984.2" cy="1573.6" r="6.6"/><circle cx="985.6" cy="1564.8" r="6.6"/><circle cx="986.3" cy="1567.5" r="6.6"/><circle cx="986.5" cy="1568.4" r="6.6"/><circle cx="986.7" cy="1568.2" r="6.6"/><circle cx="987.3" cy="1568.9" r="6.6"/><circle cx="988.8" cy="1567" r="6.6"/><circle cx="995.4" cy="1562.6" r="6.6"/><circle cx="1000.1" cy="1564.3" r="6.6"/><circle cx="1000.3" cy="1561.6" r="6.6"/><circle cx="1003.5" cy="1562" r="6.6"/><circle cx="1005.1" cy="1560.8" r="6.6"/><circle cx="1005.5" cy="1560.8" r="6.6"/><circle cx="1007.1" cy="1558.9" r="6.6"/><circle cx="1009.2" cy="1556.8" r="6.6"/><circle cx="1009.3" cy="1558.7" r="6.6"/><circle cx="1012.6" cy="1555.7" r="6.6"/><circle cx="1018.2" cy="1552.5" r="6.6"/><circle cx="1019.9" cy="1557.7" r="6.6"/><circle cx="1020.5" cy="1553.1" r="6.6"/><circle cx="1027.7" cy="1552.5" r="6.6"/><circle cx="1027.8" cy="1552.3" r="6.6"/><circle cx="1035.1" cy="1547.3" r="6.6"/><circle cx="1040.8" cy="1547.6" r="6.6"/><circle cx="1041.5" cy="1548.1" r="6.6"/><circle cx="1044.4" cy="1543.3" r="6.6"/><circle cx="1053.9" cy="1540.3" r="6.6"/><circle cx="1056.9" cy="1540.4" r="6.6"/><circle cx="1064.3" cy="1532.9" r="6.6"/><circle cx="1065.2" cy="1540" r="6.6"/><circle cx="1066.3" cy="1540.9" r="6.6"/><circle cx="1067.8" cy="1537.6" r="6.6"/><circle cx="1068.9" cy="1539" r="6.6"/><circle cx="1076.4" cy="1533.3" r="6.6"/><circle cx="1077.2" cy="1534.9" r="6.6"/><circle cx="1078" cy="1534.6" r="6.6"/><circle cx="1084" cy="1531.2" r="6.6"/><circle cx="1086.6" cy="1531.9" r="6.6"/><circle cx="1088.2" cy="1533.4" r="6.6"/><circle cx="1088.6" cy="1530.9" r="6.6"/><circle cx="1091.7" cy="1527" r="6.6"/><circle cx="1092.4" cy="1527.7" r="6.6"/><circle cx="1094.3" cy="1525.6" r="6.6"/><circle cx="1098.7" cy="1522.5" r="6.6"/><circle cx="1100" cy="1523.6" r="6.6"/><circle cx="1106.9" cy="1522.9" r="6.6"/><circle cx="1108" cy="1523.8" r="6.6"/><circle cx="1108.1" cy="1521.4" r="6.6"/><circle cx="1109" cy="1518.8" r="6.6"/><circle cx="1110.8" cy="1518.5" r="6.6"/><circle cx="1133.1" cy="1511.3" r="6.6"/><circle cx="1133.4" cy="1514.6" r="6.6"/><circle cx="1135.5" cy="1511.1" r="6.6"/><circle cx="1135.9" cy="1510.7" r="6.6"/><circle cx="1141.1" cy="1507.8" r="6.6"/><circle cx="1141.4" cy="1512.6" r="6.6"/><circle cx="1143" cy="1510.9" r="6.6"/><circle cx="1147" cy="1507.8" r="6.6"/><circle cx="1147.3" cy="1507.7" r="6.6"/><circle cx="1148.4" cy="1508.7" r="6.6"/><circle cx="1150.2" cy="1505.9" r="6.6"/><circle cx="1152.3" cy="1506.7" r="6.6"/><circle cx="1157.1" cy="1502.1" r="6.6"/><circle cx="1162.3" cy="1503.4" r="6.6"/><circle cx="1168.2" cy="1499.8" r="6.6"/><circle cx="1168.2" cy="1504.3" r="6.6"/><circle cx="1168.5" cy="1499.7" r="6.6"/><circle cx="1169.4" cy="1501.1" r="6.6"/><circle cx="1170.6" cy="1497.9" r="6.6"/><circle cx="1175.7" cy="1497.8" r="6.6"/><circle cx="1178.1" cy="1494.2" r="6.6"/><circle cx="1178.1" cy="1497.6" r="6.6"/><circle cx="1178.7" cy="1499.2" r="6.6"/><circle cx="1180.7" cy="1495.2" r="6.6"/><circle cx="1181.1" cy="1494.3" r="6.6"/><circle cx="1184.8" cy="1495.6" r="6.6"/><circle cx="1194.3" cy="1493.2" r="6.6"/><circle cx="1195.3" cy="1488.8" r="6.6"/><circle cx="1195.4" cy="1488.1" r="6.6"/><circle cx="1196" cy="1488.6" r="6.6"/>
</g>
<g fill="#FF0000" stroke="#000" stroke-width="1.5">
<circle cx="386.8" cy="1786.4" r="6.6"/><circle cx="394.1" cy="1784" r="6.6"/><circle cx="405.3" cy="1782.2" r="6.6"/><circle cx="413.7" cy="1775.4" r="6.6"/><circle cx="419.7" cy="1773.6" r="6.6"/><circle cx="430.8" cy="1768.8" r="6.6"/><circle cx="436.6" cy="1768.5" r="6.6"/><circle cx="443.6" cy="1769" r="6.6"/><circle cx="443.7" cy="1765.9" r="6.6"/><circle cx="443.9" cy="1764.9" r="6.6"/><circle cx="450.2" cy="1764.5" r="6.6"/><circle cx="451.5" cy="1765.9" r="6.6"/><circle cx="459.9" cy="1759.6" r="6.6"/><circle cx="461.6" cy="1758.9" r="6.6"/><circle cx="487.1" cy="1753" r="6.6"/><circle cx="490.6" cy="1750.7" r="6.6"/><circle cx="502.4" cy="1747.7" r="6.6"/><circle cx="507.7" cy="1742.5" r="6.6"/><circle cx="507.8" cy="1742.7" r="6.6"/><circle cx="507.8" cy="1739.8" r="6.6"/><circle cx="510.5" cy="1743.8" r="6.6"/><circle cx="512.4" cy="1738.9" r="6.6"/><circle cx="517.1" cy="1740.1" r="6.6"/><circle cx="524.8" cy="1736.3" r="6.6"/><circle cx="533.6" cy="1735.9" r="6.6"/><circle cx="539.5" cy="1731.4" r="6.6"/><circle cx="541.3" cy="1731.7" r="6.6"/><circle cx="541.9" cy="1730.7" r="6.6"/><circle cx="557.8" cy="1724.3" r="6.6"/><circle cx="558" cy="1723.7" r="6.6"/><circle cx="561.6" cy="1721.7" r="6.6"/><circle cx="566" cy="1721.7" r="6.6"/><circle cx="566.9" cy="1723" r="6.6"/><circle cx="578.2" cy="1715.3" r="6.6"/><circle cx="590.4" cy="1712.6" r="6.6"/><circle cx="591.4" cy="1713.4" r="6.6"/><circle cx="592.4" cy="1709.4" r="6.6"/><circle cx="593.1" cy="1711.2" r="6.6"/><circle cx="598.7" cy="1708.3" r="6.6"/><circle cx="599.9" cy="1712.3" r="6.6"/><circle cx="600.7" cy="1710.1" r="6.6"/><circle cx="601.2" cy="1705" r="6.6"/><circle cx="604.7" cy="1706.5" r="6.6"/><circle cx="612.2" cy="1703.8" r="6.6"/><circle cx="615.8" cy="1704.7" r="6.6"/><circle cx="621.6" cy="1701.5" r="6.6"/><circle cx="627.9" cy="1698.2" r="6.6"/><circle cx="628.8" cy="1698.7" r="6.6"/><circle cx="630.2" cy="1698.3" r="6.6"/><circle cx="636.6" cy="1699" r="6.6"/><circle cx="641.4" cy="1695.4" r="6.6"/><circle cx="642.7" cy="1694.3" r="6.6"/><circle cx="642.8" cy="1692.4" r="6.6"/><circle cx="646.6" cy="1691.1" r="6.6"/><circle cx="653.7" cy="1689.4" r="6.6"/><circle cx="678.8" cy="1681.6" r="6.6"/><circle cx="682.5" cy="1680.2" r="6.6"/><circle cx="691.7" cy="1675" r="6.6"/><circle cx="694.2" cy="1677.1" r="6.6"/><circle cx="697.1" cy="1673.9" r="6.6"/><circle cx="698.6" cy="1673.5" r="6.6"/><circle cx="699.2" cy="1673.2" r="6.6"/><circle cx="709.7" cy="1665.8" r="6.6"/><circle cx="722.6" cy="1664.4" r="6.6"/><circle cx="730.5" cy="1659.6" r="6.6"/><circle cx="733.8" cy="1657" r="6.6"/><circle cx="740.1" cy="1656.7" r="6.6"/><circle cx="741" cy="1657.4" r="6.6"/><circle cx="755" cy="1654.6" r="6.6"/><circle cx="760.2" cy="1647.3" r="6.6"/><circle cx="765" cy="1650.6" r="6.6"/><circle cx="770.6" cy="1650.3" r="6.6"/><circle cx="773.5" cy="1643.4" r="6.6"/><circle cx="775.2" cy="1647.5" r="6.6"/><circle cx="784" cy="1643.8" r="6.6"/><circle cx="786.2" cy="1642.1" r="6.6"/><circle cx="795.3" cy="1639.6" r="6.6"/><circle cx="795.8" cy="1641.3" r="6.6"/><circle cx="804.8" cy="1633.6" r="6.6"/><circle cx="809.6" cy="1631.3" r="6.6"/><circle cx="822.1" cy="1626.2" r="6.6"/><circle cx="832.5" cy="1623.8" r="6.6"/><circle cx="833.4" cy="1624.2" r="6.6"/><circle cx="844.3" cy="1620.4" r="6.6"/><circle cx="859.6" cy="1611.5" r="6.6"/><circle cx="864" cy="1610.6" r="6.6"/><circle cx="865.4" cy="1612.5" r="6.6"/><circle cx="866.4" cy="1610.7" r="6.6"/><circle cx="869.4" cy="1612.4" r="6.6"/><circle cx="874.5" cy="1607.4" r="6.6"/><circle cx="874.8" cy="1610.2" r="6.6"/><circle cx="879.6" cy="1606.7" r="6.6"/><circle cx="881.6" cy="1606.2" r="6.6"/><circle cx="888" cy="1608.4" r="6.6"/><circle cx="911.2" cy="1593.6" r="6.6"/><circle cx="934" cy="1586.5" r="6.6"/><circle cx="942.2" cy="1584.9" r="6.6"/><circle cx="943.1" cy="1584.5" r="6.6"/><circle cx="953.7" cy="1579.4" r="6.6"/><circle cx="957.5" cy="1578.1" r="6.6"/><circle cx="959.8" cy="1576.2" r="6.6"/><circle cx="961.7" cy="1576" r="6.6"/><circle cx="967.6" cy="1573" r="6.6"/><circle cx="968" cy="1573.5" r="6.6"/><circle cx="996.2" cy="1566.2" r="6.6"/><circle cx="997.9" cy="1565.6" r="6.6"/><circle cx="999.4" cy="1561.5" r="6.6"/><circle cx="1006.9" cy="1559" r="6.6"/><circle cx="1007.4" cy="1559.5" r="6.6"/><circle cx="1021.6" cy="1556.7" r="6.6"/><circle cx="1025.8" cy="1554" r="6.6"/><circle cx="1034.7" cy="1550.9" r="6.6"/><circle cx="1038" cy="1547" r="6.6"/><circle cx="1045.7" cy="1546.9" r="6.6"/><circle cx="1049.1" cy="1546.6" r="6.6"/><circle cx="1052.3" cy="1544.4" r="6.6"/><circle cx="1055.6" cy="1541.2" r="6.6"/><circle cx="1063.9" cy="1535.8" r="6.6"/><circle cx="1064.1" cy="1539.5" r="6.6"/><circle cx="1064.6" cy="1536.4" r="6.6"/><circle cx="1069" cy="1537.6" r="6.6"/><circle cx="1071.5" cy="1536.7" r="6.6"/><circle cx="1084.9" cy="1532.5" r="6.6"/><circle cx="1085" cy="1529.5" r="6.6"/><circle cx="1095.5" cy="1528" r="6.6"/><circle cx="1097.6" cy="1524.5" r="6.6"/><circle cx="1100.3" cy="1526" r="6.6"/><circle cx="1106.4" cy="1519.8" r="6.6"/><circle cx="1109.3" cy="1521.6" r="6.6"/><circle cx="1111" cy="1521.2" r="6.6"/>
</g>
<g fill="#A5A5A5" stroke="#000" stroke-width="1.5">
<circle cx="381.7" cy="1788.5" r="6.6"/><circle cx="382.2" cy="1788.1" r="6.6"/><circle cx="385.4" cy="1788.2" r="6.6"/><circle cx="389.6" cy="1788.9" r="6.6"/><circle cx="390.8" cy="1786.8" r="6.6"/><circle cx="405.5" cy="1781.3" r="6.6"/><circle cx="405.9" cy="1782.2" r="6.6"/><circle cx="416.3" cy="1775.8" r="6.6"/><circle cx="421.9" cy="1775.8" r="6.6"/><circle cx="433.5" cy="1773.1" r="6.6"/><circle cx="436.3" cy="1769.6" r="6.6"/><circle cx="439.2" cy="1770.2" r="6.6"/><circle cx="451.5" cy="1763.2" r="6.6"/><circle cx="453.5" cy="1767.6" r="6.6"/><circle cx="466.8" cy="1761.2" r="6.6"/><circle cx="469.1" cy="1757.5" r="6.6"/><circle cx="477.6" cy="1754" r="6.6"/><circle cx="479.7" cy="1753.5" r="6.6"/><circle cx="488.1" cy="1748.1" r="6.6"/><circle cx="502.3" cy="1745.8" r="6.6"/><circle cx="517.4" cy="1740.7" r="6.6"/><circle cx="521.6" cy="1736.9" r="6.6"/><circle cx="525.6" cy="1737.3" r="6.6"/><circle cx="526.5" cy="1735.8" r="6.6"/><circle cx="537.1" cy="1730.4" r="6.6"/><circle cx="539.4" cy="1732" r="6.6"/><circle cx="540.8" cy="1731.4" r="6.6"/><circle cx="547.9" cy="1729.6" r="6.6"/><circle cx="559.7" cy="1723.6" r="6.6"/><circle cx="565.5" cy="1721.1" r="6.6"/><circle cx="572.3" cy="1717.9" r="6.6"/><circle cx="583.3" cy="1714.4" r="6.6"/><circle cx="585.9" cy="1711.2" r="6.6"/><circle cx="621.1" cy="1701.3" r="6.6"/><circle cx="624.2" cy="1700.2" r="6.6"/><circle cx="643.3" cy="1693.9" r="6.6"/><circle cx="661.6" cy="1684.6" r="6.6"/><circle cx="670.3" cy="1683.4" r="6.6"/><circle cx="673.5" cy="1682.8" r="6.6"/><circle cx="676.4" cy="1683.4" r="6.6"/><circle cx="679.8" cy="1680.2" r="6.6"/><circle cx="687.6" cy="1675.7" r="6.6"/><circle cx="695.5" cy="1678.5" r="6.6"/><circle cx="702.1" cy="1673.6" r="6.6"/><circle cx="703.2" cy="1672.9" r="6.6"/><circle cx="717.3" cy="1667.5" r="6.6"/><circle cx="720.6" cy="1664.9" r="6.6"/><circle cx="744.8" cy="1656.7" r="6.6"/><circle cx="746.6" cy="1655.2" r="6.6"/><circle cx="751.1" cy="1653.3" r="6.6"/><circle cx="757.5" cy="1649.1" r="6.6"/><circle cx="776.1" cy="1644.9" r="6.6"/><circle cx="776.4" cy="1643.8" r="6.6"/><circle cx="784.6" cy="1641.8" r="6.6"/><circle cx="791.3" cy="1638.7" r="6.6"/><circle cx="794.4" cy="1638.3" r="6.6"/><circle cx="804" cy="1636.2" r="6.6"/><circle cx="805.7" cy="1633" r="6.6"/><circle cx="806" cy="1631.7" r="6.6"/><circle cx="806" cy="1635.1" r="6.6"/><circle cx="824" cy="1627" r="6.6"/><circle cx="827.1" cy="1625.8" r="6.6"/><circle cx="836.9" cy="1625.7" r="6.6"/><circle cx="839.4" cy="1618" r="6.6"/><circle cx="864.3" cy="1609.7" r="6.6"/><circle cx="866.2" cy="1609.4" r="6.6"/><circle cx="867.3" cy="1609.3" r="6.6"/><circle cx="877.1" cy="1608.8" r="6.6"/><circle cx="881.9" cy="1609.6" r="6.6"/><circle cx="885.8" cy="1604.3" r="6.6"/><circle cx="893.8" cy="1601.1" r="6.6"/><circle cx="900.1" cy="1599.3" r="6.6"/><circle cx="914.2" cy="1594.5" r="6.6"/><circle cx="915" cy="1591.8" r="6.6"/><circle cx="922.3" cy="1589.5" r="6.6"/><circle cx="936.3" cy="1585.6" r="6.6"/><circle cx="943" cy="1584" r="6.6"/><circle cx="946.4" cy="1578.1" r="6.6"/><circle cx="960" cy="1575.5" r="6.6"/><circle cx="962.4" cy="1575.8" r="6.6"/><circle cx="993" cy="1566.9" r="6.6"/><circle cx="994.1" cy="1566.9" r="6.6"/><circle cx="1011.1" cy="1562.7" r="6.6"/><circle cx="1029.8" cy="1551.6" r="6.6"/><circle cx="1042.7" cy="1546" r="6.6"/><circle cx="1043.3" cy="1546.5" r="6.6"/><circle cx="1044.5" cy="1545.8" r="6.6"/><circle cx="1055.4" cy="1541.4" r="6.6"/><circle cx="1059.9" cy="1538.8" r="6.6"/><circle cx="1062.8" cy="1542" r="6.6"/><circle cx="1067.3" cy="1539.5" r="6.6"/><circle cx="1081.7" cy="1530.7" r="6.6"/><circle cx="1083.8" cy="1530.9" r="6.6"/><circle cx="1090.7" cy="1528" r="6.6"/><circle cx="1104.2" cy="1525.5" r="6.6"/><circle cx="1106.8" cy="1520.4" r="6.6"/><circle cx="1107.4" cy="1522.5" r="6.6"/><circle cx="1111" cy="1521.7" r="6.6"/><circle cx="1111.5" cy="1522.6" r="6.6"/><circle cx="1144" cy="1508.9" r="6.6"/><circle cx="1147.7" cy="1507.6" r="6.6"/><circle cx="1147.9" cy="1507.9" r="6.6"/><circle cx="1150.1" cy="1504.3" r="6.6"/><circle cx="1151.4" cy="1504.5" r="6.6"/><circle cx="1157.1" cy="1504.4" r="6.6"/><circle cx="1162.4" cy="1503.4" r="6.6"/><circle cx="1176.3" cy="1498" r="6.6"/><circle cx="1183.1" cy="1494.2" r="6.6"/><circle cx="1188" cy="1497.6" r="6.6"/><circle cx="1191.5" cy="1491.2" r="6.6"/>
</g>
<line x1="323.5" y1="1810.8" x2="1329.5" y2="1441.9" stroke="#4472C4" stroke-width="3.2" stroke-linecap="round"/>
<line x1="319.8" y1="1810.8" x2="1285.6" y2="1458.6" stroke="#FF0000" stroke-width="1.5" stroke-linecap="round"/>
<line x1="326.8" y1="1810" x2="1319.9" y2="1444.3" stroke="#A5A5A5" stroke-width="4.3" stroke-linecap="round"/>
<text x="295.2" y="1819.7" font-size="19.6" font-weight="bold" text-anchor="end" textLength="35.6" lengthAdjust="spacingAndGlyphs">640</text>
<text x="318.2" y="1849.1" font-size="19.6" font-weight="bold" text-anchor="middle" textLength="35.6" lengthAdjust="spacingAndGlyphs">640</text>
<text x="295.2" y="1780.4" font-size="19.6" font-weight="bold" text-anchor="end" textLength="35.6" lengthAdjust="spacingAndGlyphs">660</text>
<text x="425.1" y="1849.1" font-size="19.6" font-weight="bold" text-anchor="middle" textLength="35.6" lengthAdjust="spacingAndGlyphs">660</text>
<text x="295.2" y="1741.1" font-size="19.6" font-weight="bold" text-anchor="end" textLength="35.6" lengthAdjust="spacingAndGlyphs">680</text>
<text x="532" y="1849.1" font-size="19.6" font-weight="bold" text-anchor="middle" textLength="35.6" lengthAdjust="spacingAndGlyphs">680</text>
<text x="295.2" y="1701.8" font-size="19.6" font-weight="bold" text-anchor="end" textLength="35.6" lengthAdjust="spacingAndGlyphs">700</text>
<text x="638.9" y="1849.1" font-size="19.6" font-weight="bold" text-anchor="middle" textLength="35.6" lengthAdjust="spacingAndGlyphs">700</text>
<text x="295.2" y="1662.5" font-size="19.6" font-weight="bold" text-anchor="end" textLength="35.6" lengthAdjust="spacingAndGlyphs">720</text>
<text x="745.8" y="1849.1" font-size="19.6" font-weight="bold" text-anchor="middle" textLength="35.6" lengthAdjust="spacingAndGlyphs">720</text>
<text x="295.2" y="1623.2" font-size="19.6" font-weight="bold" text-anchor="end" textLength="35.6" lengthAdjust="spacingAndGlyphs">740</text>
<text x="852.7" y="1849.1" font-size="19.6" font-weight="bold" text-anchor="middle" textLength="35.6" lengthAdjust="spacingAndGlyphs">740</text>
<text x="295.2" y="1583.8" font-size="19.6" font-weight="bold" text-anchor="end" textLength="35.6" lengthAdjust="spacingAndGlyphs">760</text>
<text x="959.6" y="1849.1" font-size="19.6" font-weight="bold" text-anchor="middle" textLength="35.6" lengthAdjust="spacingAndGlyphs">760</text>
<text x="295.2" y="1544.5" font-size="19.6" font-weight="bold" text-anchor="end" textLength="35.6" lengthAdjust="spacingAndGlyphs">780</text>
<text x="1066.5" y="1849.1" font-size="19.6" font-weight="bold" text-anchor="middle" textLength="35.6" lengthAdjust="spacingAndGlyphs">780</text>
<text x="295.2" y="1505.2" font-size="19.6" font-weight="bold" text-anchor="end" textLength="35.6" lengthAdjust="spacingAndGlyphs">800</text>
<text x="1173.4" y="1849.1" font-size="19.6" font-weight="bold" text-anchor="middle" textLength="35.6" lengthAdjust="spacingAndGlyphs">800</text>
<text x="295.2" y="1465.9" font-size="19.6" font-weight="bold" text-anchor="end" textLength="35.6" lengthAdjust="spacingAndGlyphs">820</text>
<text x="1280.3" y="1849.1" font-size="19.6" font-weight="bold" text-anchor="middle" textLength="35.6" lengthAdjust="spacingAndGlyphs">820</text>
<text x="295.2" y="1426.6" font-size="19.6" font-weight="bold" text-anchor="end" textLength="35.6" lengthAdjust="spacingAndGlyphs">840</text>
<text x="1387.2" y="1849.1" font-size="19.6" font-weight="bold" text-anchor="middle" textLength="35.6" lengthAdjust="spacingAndGlyphs">840</text>
<text x="852.6" y="1886.5" font-size="21.6" font-weight="bold" text-anchor="middle" textLength="172" lengthAdjust="spacingAndGlyphs">Predicted value</text>
<g transform="translate(243.4 1616) rotate(-90)">
<text x="0" y="0" font-size="23.7" font-weight="bold" text-anchor="middle" textLength="108" lengthAdjust="spacingAndGlyphs">Real value</text>
</g>
<text x="962.8" y="1457.5" font-size="20.4" textLength="109.1" lengthAdjust="spacingAndGlyphs">Testing: y =</text>
<text x="1152.7" y="1457.5" font-size="20.4" textLength="23.3" lengthAdjust="spacingAndGlyphs">x -</text>
<text x="743.6" y="1514" font-size="20.4" textLength="118.5" lengthAdjust="spacingAndGlyphs">Training: y =</text>
<text x="942" y="1514" font-size="20.4" textLength="22.8" lengthAdjust="spacingAndGlyphs">x -</text>
<text x="970.2" y="1607.3" font-size="20.4" textLength="138.9" lengthAdjust="spacingAndGlyphs">Validation: y =</text>
<text x="1188.9" y="1607.3" font-size="20.4" textLength="23.3" lengthAdjust="spacingAndGlyphs">x -</text>
<text x="1238" y="1607.6" font-size="24">8</text>
<rect x="295.5" y="1926" width="1029.3" height="87" fill="#fff" stroke="#000" stroke-width="3.2"/>
<circle cx="329.6" cy="1948.7" r="6.6" fill="#00B0F0" stroke="#000" stroke-width="1.5"/>
<text x="361.6" y="1955.8" font-size="21.6" font-weight="bold" textLength="161.5" lengthAdjust="spacingAndGlyphs">Training phase</text>
<line x1="302.3" y1="1994.4" x2="356.8" y2="1994.4" stroke="#4472C4" stroke-width="3.4" stroke-linecap="round"/>
<text x="361.6" y="2001.5" font-size="21.6" font-weight="bold" textLength="254" lengthAdjust="spacingAndGlyphs">Linear (Training phase)</text>
<circle cx="672.6" cy="1948.7" r="6.6" fill="#FF0000" stroke="#000" stroke-width="1.5"/>
<text x="704.4" y="1955.8" font-size="21.6" font-weight="bold" textLength="185.4" lengthAdjust="spacingAndGlyphs">Validation phase</text>
<line x1="645.1" y1="1994.4" x2="699.6" y2="1994.4" stroke="#FF0000" stroke-width="3.4" stroke-linecap="round"/>
<text x="704.4" y="2001.5" font-size="21.6" font-weight="bold" textLength="276.9" lengthAdjust="spacingAndGlyphs">Linear (Validation phase)</text>
<circle cx="1014.9" cy="1948.7" r="6.6" fill="#A5A5A5" stroke="#000" stroke-width="1.5"/>
<text x="1047.3" y="1955.8" font-size="21.6" font-weight="bold" textLength="151.3" lengthAdjust="spacingAndGlyphs">Testing phase</text>
<line x1="988" y1="1994.4" x2="1042.5" y2="1994.4" stroke="#A5A5A5" stroke-width="3.4" stroke-linecap="round"/>
<text x="1047.3" y="2001.5" font-size="21.6" font-weight="bold" textLength="243" lengthAdjust="spacingAndGlyphs">Linear (Testing phase)</text>
</svg></body></html>
